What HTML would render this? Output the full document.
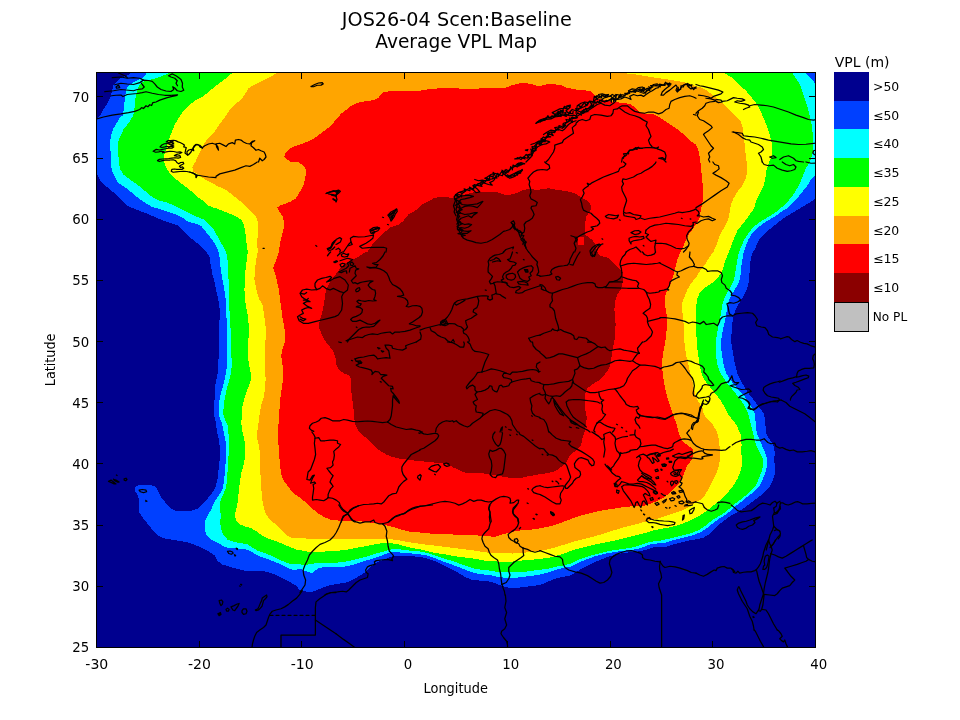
<!DOCTYPE html>
<html lang="en"><head><meta charset="utf-8"><title>JOS26-04 Scen:Baseline Average VPL Map</title>
<style>
html,body{margin:0;padding:0;background:#fff;}
body{width:960px;height:720px;overflow:hidden;font-family:'DejaVu Sans','Liberation Sans',sans-serif;}
svg{display:block;}
svg text{font-family:'DejaVu Sans','Liberation Sans',sans-serif;fill:#000;}
.t{font-size:18.67px;}
.k{font-size:13.33px;}
.g{font-size:12px;}
.h{font-size:14px;}
</style></head><body>
<svg width="960" height="720" viewBox="0 0 960 720">
<rect width="960" height="720" fill="#fff"/>
<defs><clipPath id="c"><rect x="96" y="72" width="720" height="576"/></clipPath></defs>
<g clip-path="url(#c)" shape-rendering="crispEdges">
<rect x="96" y="72" width="720" height="576" fill="#00008f"/>
<polygon fill="#0040ff" points="130,69.5 130,73.88 120.62,78.25 113.75,84.5 111.88,90.75 110.62,97 108.12,102 105,107 102.5,110.75 100.62,115.12 96,120 91,120.75 91,173.25 97,173.88 101,182 108.5,188.25 116,194.5 121,199.5 127.25,205.75 136,209.5 146,213.25 154.75,217 163.5,220.75 171,223.25 178.5,225.75 184.75,232 191,238.25 197.25,243.25 202.25,248.25 206.125,252 209.38,255.75 210.62,264.5 212.5,274.5 215,284.5 216.88,293.25 218.75,302 220,312 219.38,322 218.75,329.5 218.75,342 218.75,354.5 218.12,367 217.5,374.5 215.62,383.25 214.75,392 214.38,404.5 214.38,417 216.25,424.5 216.88,432 218.75,439.5 220,448.25 220,457 218.75,467 218.12,475.75 216.88,482 215,488.25 211,494.5 204.75,502 198.5,508.25 191,510.75 183.5,511.38 176,511.38 171,508.25 166,503.25 161,497 157.88,490.75 156,487 151,485.12 143.5,484.88 138.5,485.12 134.75,487.62 134.75,490.75 137.25,494.5 139.12,499.5 139.12,512 142.25,517 147.25,523.25 152.25,529.5 157.25,535.12 163.5,538.25 171,539.5 178.5,540.75 186,542 193.5,544.5 199.75,547 208,550.75 215,555.75 217.5,560.75 222.5,564.5 230,567 237.5,568.88 245,570.75 252.5,571.38 260,570.75 267.5,572 275,574.5 282.5,578.25 290,582 296.25,585.75 300,590.375 307.5,591.88 312.5,591.88 320,588.75 328.75,585.62 337.5,583.75 345,583.12 352.5,580 358.75,576.25 365,572.5 370,567.5 375,563.75 381.25,560.62 387.5,558.12 392.5,556.25 400,556 407.5,556.25 415,556.5 420,556.88 427.5,558.75 435,561.25 442.5,565 450,568.75 457.5,572.5 465,576.88 472.5,580 480,580.62 487.5,581.25 495,583.12 502.5,586.25 510,588.12 520,587.5 530,586.25 540,585 547.5,581.88 555,578.75 562.5,576.88 570,575.62 577.5,571.25 585,566.88 592.5,563.12 600,560 607.5,556.88 615,555 622.5,553.12 630,552.25 637.5,551.5 645,550 652.5,547.5 660,546.56 666.25,546.88 673.75,544.38 681.25,542.5 688.75,540.62 696.25,539.38 703.75,537.5 710,533.75 715,528.75 720,523.75 725,520 730,516.25 736.25,513.12 741.25,510 746.25,506.25 751.25,502.5 756.25,498.75 761.25,495 766.25,490.62 770,486.25 772.5,481.25 775,473.75 775,466.25 773.935,460 774.75,453.75 774.12,447.5 771.62,442.5 768.5,437.5 765.62,432 765.62,427 765,419.5 763.75,413.25 760,408.25 756.25,403.25 752.5,398.25 747.5,392 743.75,385.75 740,379.5 736.88,372 735,364.5 733.75,357 732.5,349.5 731.25,342 731.25,337 731.88,329.5 732.5,322 733.75,314.5 736.25,308.25 740,302 743.75,295.75 746.88,289.5 748.75,282 749.38,274.5 750,267 750.62,259.5 752.69,252 754.75,249.5 757.25,243.25 761,237 766,232 771,228.25 777.25,223.25 783.5,218.25 789.75,214.5 796,210.75 802.25,207 808.5,203.25 815,198.88 821,198.25 830,198.25 830,60"/>
<polygon fill="#00ffff" points="146.25,69.5 146.25,73.88 142.5,78.25 135,81.38 130,84.5 126.88,87.62 126.25,90.75 125,97 124.38,103.25 123.75,109.5 122.5,115.75 120.38,117 116.62,123.25 112.88,129.5 111,135.75 110.12,142 110.12,148.25 111,154.5 111,161.375 111.62,169.5 114.75,177 118.5,183.25 124.75,187 131,192 138.5,198.25 146,203.25 152.25,207 161,209.5 168.5,212 176,214.5 183.5,218.25 188.5,222 196,223.88 201,225.75 206,232 211,238.25 214.75,243.25 216,245.75 218.625,252 220,259.5 220.62,268.25 221.88,277 223.75,285.75 225,294.5 226.25,304.5 226.25,314.5 226.88,324.5 227.5,333.25 227.19,342 227.25,354.5 226.88,367 225.62,374.5 223.75,383.25 221.25,392 219.38,400.75 218.75,409.5 219.38,417 221.88,423.25 223.75,432 225.62,442 226.25,452 225.62,462 225,472 223.75,482 223.12,487 221.25,492 217.5,497 213.75,503.25 211.25,509.5 207.5,515.75 204.69,522 205,530.75 206.88,535.75 211.25,539.5 217.5,542.62 223.75,546.38 230,548.25 236.25,548.5 242.5,548.88 248.75,550.12 253.75,553.25 260,556.38 267.5,558.88 275,562 282.5,565.12 288.75,568.25 293.75,570.12 300,568.815 306.25,571.25 311.88,573.12 317.5,568.75 322.5,567.25 331.25,567.5 341.25,567.25 350,565.62 360,562.5 370,559.38 380,556.25 387.5,553.12 392.5,552.25 400,552.5 407.5,553.12 415,553.75 420,554.38 427.5,555.62 435,558.12 442.5,561.25 451.25,564.38 460,567.5 467.5,570.62 475,573.12 482.5,574.38 490,575 497.5,576.88 507.5,578.12 517.5,577.5 527.5,576.25 537.5,575 540,574.38 547.5,572.5 555,570 562.5,568.12 570,566.88 577.5,563.12 585,560 595,556.25 605,553.75 615,551.88 625,550.62 635,549.38 642.5,547.5 650,544.38 660,543.13 663.75,543.12 671.25,540.62 678.75,538.75 686.25,536.88 693.75,535 701.25,531.88 707.5,527.5 713.75,522.5 720,518.12 726.25,514.38 731.25,510 736.25,505.62 741.25,501.88 746.25,497.5 751.25,493.75 756.25,489.38 760,485 762.5,480 765,473.75 766.88,466.25 767.06,458.125 764.75,451.25 762.25,446.25 759.75,440 756.75,432.875 755.62,422 755,414.5 752.5,408.25 748.75,402 745,397 740,392 735,385.75 730,379.5 726.25,373.25 723.75,365.75 722.5,358.25 721.25,349.5 720.935,342 721.88,335.75 723.12,328.25 725,320.75 726.25,313.25 727.5,305.75 729.38,299.5 732.5,293.25 736.25,287 739.38,280.75 740.62,274.5 741.25,267 742.5,259.5 743.62,252 746,245.75 748.5,239.5 752.25,233.25 757.25,228.25 763.5,223.25 769.75,219.5 776,215.75 781,212 787.25,208.25 792.25,203.25 797.25,198.25 802.25,192 807.25,185.75 811,179.5 815,175.75 821,175.12 821,83.88 815,83.25 811,78.25 806,73 806,69.5"/>
<polygon fill="#00ff00" points="169.75,69.5 169.75,73 156.25,78.25 143.75,81.38 140,84.5 138.12,87.62 136.88,90.75 135.62,97 135,103.25 134.38,109.5 133.12,115.75 128.5,123.25 123.5,129.5 120.38,135.75 118.25,142 117.88,148.25 118.25,154.5 118.935,161.375 119.75,168.25 123.5,174.5 129.75,179.5 137.25,184.5 144.75,190.75 152.25,197 159.75,200.75 167.25,202.62 174.75,205.75 182.25,209.5 189.75,213.25 197.25,217 203.5,219.5 208.5,224.5 213.5,229.5 216,233.56 219.75,240.75 223.5,247 226.125,252 227.5,259.5 228.12,270.75 228.75,283.25 229.38,295.75 229.38,308.25 230,320.75 230.62,329.5 231.125,342 231.25,354.5 231.88,363.25 231.25,372 229.38,379.5 226.88,388.25 225,397 223.75,405.75 223.12,414.5 225.62,420.75 228.12,427 228.435,432 228.75,442 228.75,452 228.12,462 227.5,472 226.88,482 225.62,488.25 223.12,494.5 220.62,499.5 220,507 220.62,514.5 220.435,522 220.62,528.25 223.12,534.5 227.5,539.5 233.75,542 241.25,543.25 247.5,544.5 252.5,547.62 257.5,550.75 263.75,552.62 271.25,555.75 278.75,559.5 285,562 291.25,564.5 300,564.44 306.25,564.75 312.5,563.75 318.75,562.5 327.5,562.75 337.5,562.5 347.5,561.25 357.5,558.75 367.5,556.25 377.5,553.12 385,551.25 391.25,549.38 396.25,548.75 402.5,549.75 410,550.62 417.5,551.25 420,551.5 427.5,553.12 435,555.62 442.5,558.12 451.25,560.62 460,563.75 467.5,566.25 475,568.75 482.5,570 490,570.62 497.5,571.88 507.5,572.5 517.5,572.25 527.5,571.5 537.5,570 540,569.69 547.5,568.75 555,566.88 562.5,565.62 570,563.75 577.5,560 585,557.5 595,554.38 605,551.88 615,550 625,548.75 635,546.88 642.5,544.38 650,541.88 660,540.625 668.75,538.75 676.25,536.88 683.75,535 691.25,533.12 698.75,530 706.25,525 712.5,520 718.75,516.25 725,512.5 730,508.12 735,503.75 740,500 746.25,495 751.25,490 756.25,485 758.75,478.75 761.25,472.5 763.12,466.25 763,458.75 759.75,452.5 757.25,447.5 754.75,441.25 753,432.875 751.25,425.75 749.38,418.25 747.5,412 743.75,404.5 740,399.5 736.25,394.5 732.5,389.5 728.12,384.5 723.75,378.25 720,372 717.5,364.5 716.25,357 715.62,349.5 715.935,342 716.88,334.5 718.12,327 720,319.5 721.25,312 722.5,304.5 724.38,298.25 727.5,292 731.25,285.75 733.75,280.75 735,274.5 736.25,267 737.5,259.5 738.935,252 741.62,245.75 744.12,239.5 748.5,233.25 753.5,227 759.75,222 766,218.25 772.25,214.5 778.5,210.12 783.5,205.75 788.5,200.75 793.5,194.5 797.25,188.25 801,180.75 803.5,174.5 806,168.25 810.065,162 812.88,152 813.5,144.5 812.88,137 812.25,128.25 811,120.75 809.12,113.25 807.25,105.75 804.75,98.25 802.25,90.75 799.75,84.5 796,78.25 792.25,73 792.25,69.5"/>
<polygon fill="#ffff00" points="232.25,69.5 232.25,73 226,78.25 221,82 216,85.75 208.5,92 202.25,97 194.75,100.75 188.5,105.75 183.5,110.75 178.5,118.25 174.75,124.5 172.25,130.75 169.75,137 167.88,143.25 166,149.5 164.12,155.75 164.125,162 166,167 169.75,173.25 174.75,178.25 181,183.25 186,187 192.25,192 197.25,197 203.5,200.75 208.5,205.75 213.5,207.62 216,208.25 222.25,210.75 228.5,213.25 234.75,215.75 241,219.5 243.5,224.5 245.38,232 246,239.5 247.25,247 247.69,252 246.88,259.5 245.62,268.25 245,279.5 244.38,289.5 245,299.5 246.25,308.25 248.12,317 248.75,327 248.435,342 247.5,352 248.75,363.25 250.62,372 251.25,378.25 249.38,384.5 246.88,390.75 244.38,398.25 242.5,405.75 241.88,414.5 241.25,423.25 242.5,432 244.38,439.5 245,448.25 245,457 243.75,464.5 241.25,473.25 240,482 238.75,490.75 238.12,499.5 236.88,507 235,513.25 235.62,519.5 237.185,522 240,524.5 245,526.38 251.25,528.25 257.5,532 262.5,535.75 267.5,538.25 275,540.75 282.5,543.88 290,547 296.25,549.5 300,550.185 307.5,551.5 315,551.88 325,551.5 335,551 345,550 355,548.12 365,546.25 375,544.38 382.5,543.12 390,543.12 397.5,544 405,546.25 412.5,548.12 420,549.38 427.5,551.25 436.25,553.12 445,554.38 455,556.25 465,557.5 475,558.75 485,560.62 492.5,561.25 502.5,561.88 512.5,561.5 520,560.62 530,560 540,558.75 547.5,558.12 555,556.25 565,553.12 575,549.38 585,546.88 595,544.38 605,542.5 615,540.62 625,538.12 635,535.62 645,533.12 652.5,530.62 660,529.065 668.75,527.5 676.25,525.62 683.75,523.12 691.25,520 698.75,516.25 706.25,511.25 712.5,506.25 718.75,501.25 723.75,496.25 728.75,491.25 733.75,485 737.5,478.75 740,472.5 741.88,466.25 742.375,460 741,452.5 741.62,445 740.5,434.125 736.25,424.5 731.25,418.25 727.5,413.25 723.75,405.75 720,399.5 715,393.25 710,387 705,380.75 701.88,374.5 700,367 698.75,358.25 697.5,349.5 696.88,342 696.25,333.25 695.62,324.5 696.25,314.5 696.25,305.75 697.5,298.25 700,292 703.75,288.25 710,284.5 716.25,279.5 721.25,273.25 723.75,265.75 726.25,258.25 728.935,252 731.62,244.5 734.12,238.25 737.25,230.75 742.25,224.5 746,219.5 749.75,214.5 754.12,208.25 756,200.75 759.75,193.25 763.5,185.75 765.38,178.25 766.62,169.5 769.125,162 771.62,157 772.25,149.5 771.62,142 769.75,134.5 767.25,127 764.12,119.5 761,112 757.25,104.5 752.25,98.25 746,90.75 737.25,83.25 731,77 724.12,73 724.12,69.5"/>
<polygon fill="#ffa500" points="277.25,69.5 277.25,73 269.75,77 262.25,80.75 254.75,84.5 248.5,88.25 244.75,94.5 241,99.5 234.75,104.5 229.75,109.5 226,115.75 222.25,120.75 218.5,125.75 216,129.815 211,135.75 206,140.75 202.25,147 198.5,154.5 195.375,162 192.25,167 193.5,172 198.5,174.5 203.5,178.25 208.5,181.38 213.5,183.88 216,185.435 221,187.62 227.25,190.75 233.5,195.75 239.75,200.75 244.75,205.75 251,212 256,217 257.88,222 257.88,232 257.25,242 257.69,252 256.25,259.5 255,268.25 254.38,279.5 256.25,289.5 258.75,298.25 262.5,304.5 263.75,312 265,322 266.25,332 265.31,342 265,354.5 265,367 265.62,379.5 265,389.5 263.75,397 261.25,404.5 260,412 258.75,420.75 257.19,432 257.5,439.5 259.38,448.25 260,457 260,467 260.62,477 261.25,487 261.88,497 263.12,504.5 265,512 268.75,518.25 272.81,522 277.5,525.75 282.5,530.75 287.5,535.75 291.25,537.62 296.25,538.25 300,538.25 312.5,538.75 325,539 337.5,538.75 350,538.75 362.5,538.5 375,538.5 387.5,539 397.5,540 407.5,541.88 415,543.12 420,543.75 427.5,545 435,545.62 445,546.88 455,548.12 465,549.38 475,550.62 485,552.25 492.5,553.12 502.5,553.12 512.5,553.5 522.5,553.12 530,551.88 540,550.935 547.5,549.38 555,547.5 565,544.38 575,541.25 585,538.75 595,536.25 605,533.12 615,530 625,526.88 635,524.38 642.5,522.5 650,520.62 660,517.81 665,516.25 672.5,513.75 680,511.25 687.5,507.5 693.75,503.75 700,500 705,495 708.75,488.75 712.5,481.25 716.25,473.75 718.75,466.25 719.875,459.375 719.75,450 719.12,440 716.88,432 715,428.25 712.5,424.5 707.5,419.5 703.75,414.5 702.5,408.25 698.75,402 695.62,395.75 693.75,388.25 691.88,379.5 690,372 688.12,363.25 686.25,355.75 685,348.25 684.38,342 683.75,334.5 683.75,327 683.12,317 681.88,308.25 682.5,302 685,295.75 687.5,289.5 691.25,283.25 696.25,277 700,270.75 705,264.5 708.75,258.25 713.315,252 717.25,243.25 719.12,237 722.25,230.75 726,224.5 728.5,218.25 729.75,212 731,204.5 733.5,198.25 737.25,192 742.25,185.75 746,178.25 747.25,169.5 746.625,162 745.38,152 744.75,144.5 743.5,137 742.88,128.25 741,122 734.75,115.75 728.5,109.5 721,102 713.5,95.75 707.25,90.75 701,87.62 696,86.065 688.5,83.25 676,80.75 663.5,78.88 651,77 636,74.5 622.25,73 622.25,69.5"/>
<polygon fill="#ff0000" points="278.75,252 276.88,258.25 273.12,267.62 275,273.25 276.88,280.75 278.75,289.5 280,299.5 281.25,308.25 282.5,318.25 284.38,327 285,334.5 284.69,342 282.5,349.5 281.25,355.75 282.5,364.5 283.12,373.25 282.5,383.25 281.25,392 280,400.75 279.38,410.75 278.75,420.75 277.81,432 278.12,439.5 278.75,448.25 279.38,457 280,465.75 281.25,474.5 283.75,480.75 287.5,485.75 291.25,490.75 295,494.5 300,497.625 306.56,503.19 312.5,508.75 318.75,513.75 325,517.5 331.25,520 340,520.62 350,520.62 360,521.25 370,522.5 380,523.75 387.5,525.62 395,527.5 402.5,530 410,531.88 420,532.5 430,533.5 440,534 450,534.38 460,534.75 470,535 480,535.62 487.5,536.25 495,536.88 500,535 507.5,533.12 515,531.25 522.5,530 530,529.75 540,528.435 547.5,526.88 555,525 565,521.25 575,517.5 585,514.38 595,511.88 605,510 615,508.5 625,506.88 636.25,506 643.75,505.75 650,503.88 656.25,501.38 660,499.75 663.75,497.5 668.75,493.75 673.75,488.75 678.75,483.75 682.5,477.5 685,471.25 687.5,465 691.56,460 693.75,453.75 692.5,448.75 687.5,445 682.5,441.25 679.375,434.75 676.25,423.25 673.75,417 671.25,409.5 668.75,402 666.25,393.25 664.38,384.5 663.12,375.75 661.88,367 662.5,358.25 663.75,349.5 665.31,342 666.25,334.5 666.88,327 667.5,319.5 666.25,312 665,304.5 665,297 667.5,289.5 671.25,282 673.75,274.5 675.62,267 677.5,259.5 680.5,252 683.5,245.75 686,239.5 688.5,234.5 692.25,229.5 696,223.875 697.25,222 699.75,217 701,209.5 702.88,199.5 702.88,187 701.62,174.5 700.38,162 699.75,157 698.5,150.75 696,144.5 693.5,143.25 688.5,138.88 682.25,133.25 676,128.25 668.5,123.25 661,118.25 653.5,114.5 646,113.88 639.75,112 634.75,107 629.75,103.88 619.75,102.62 613.5,102 604.75,100.12 597.25,98.25 594.75,95.12 591,91.38 583.5,90.12 576,89.5 573.5,88.88 566,87.62 561,85.12 553.5,84.25 546,84.5 538.5,86.38 531,83.88 526,83.25 518.5,83.5 512.25,85.12 506,87.62 493.5,88 482.25,88.25 474.75,88.88 463.5,88.88 456,88.25 448.5,88.5 441,88.25 431,88.88 421,90.5 411,90.5 403.5,91.38 398.5,90.75 388.5,91.38 382.88,92.62 378.5,97.62 373.5,100.12 367.25,101 361,102 356,103.25 351,105.75 346,110.12 341,113.88 336,119.5 331,125.75 326,129.5 321,133.25 316,137 311,140.12 303.5,143.25 296,145.75 289.75,148.25 286,152 284.12,157 287.25,159.5 291,162 297.88,162 303.5,165.75 306.62,170.75 305.38,177 303.5,184.5 299.75,192 296,198.25 291,201.38 284.75,203.88 279.75,205.75 277.25,207.62 279.75,212 282.88,217 284.12,222 283.5,229.5 281.62,237 279.75,244.5 279.12,252"/>
<polygon fill="#8b0000" points="367.25,252 372.25,244.5 378.5,238.25 384.75,232 391,227 398.5,224.5 403.5,220.75 408.5,214.5 416,210.12 421,205.12 428.5,201.38 434.75,197.62 443.5,197.25 451,197.62 456,198.125 463.5,194.75 472.25,192.62 481,191.75 491,191.75 498.5,192.62 504.75,194.75 511,194.5 516,193.25 522.25,190.5 528.5,188.88 536,189.75 543.5,189.25 548.5,188.25 556,189.75 563.5,190.75 571,192 576,194.125 581,197 587.25,200.75 591,205.12 591,209.5 588.5,213.25 586,217 585.38,222 584.75,228.25 584.75,234.5 588.5,237 592.25,240.12 594.75,243.25 596,247 597.375,252 600,255.75 607.5,257.62 612.5,262 617.5,267 621.25,270.75 622.5,277 622.5,283.25 620.62,289.5 617.5,294.5 615,302 614.38,309.5 615,317 615.62,324.5 615,333.25 614.38,342 613.12,347 611.88,353.25 611.25,359.5 610,365.75 607.5,370.75 603.75,375.75 600,379.5 596.25,382 591.25,385.12 587.5,388.25 585.62,392 585,397 585,404.5 585.62,412 586.88,417 586.25,422 585,427 584.565,432 582.5,438.25 581.25,444.5 577.5,449.5 572.5,453.25 568.75,457 566.25,462 562.5,465.75 557.5,469.5 552.5,472 546.25,473.25 540,474.19 535,475.12 527.5,476.38 520,478.25 512.5,478.25 505,477 497.5,475.75 490,474.5 482.5,473.25 475,473.25 467.5,473.25 461.25,471.38 455,468.25 448.75,465.12 442.5,463.25 435,462.62 427.5,462 420,461.065 415,460.75 407.5,459.5 400,458.88 392.5,457 386.25,454.5 380,450.75 375,447 370,442 365,437 359.375,432 355.62,425.75 354.38,419.5 353.75,412 353.12,404.5 351.88,397 351.25,389.5 351.25,380.75 350,375.75 343.75,373.25 338.75,369.5 336.25,364.5 335.62,358.25 333.75,352 330,347 325.94,342 323.75,338.25 321.25,333.25 319.38,328.25 319.38,322 321.25,315.75 323.12,308.25 324.38,302 325,294.5 326.88,288.25 330,282 333.75,277 337.5,272 341.25,267 346.25,263.25 352.5,259.5 360,255.75 365.62,252"/>
<rect x="578" y="236.5" width="6" height="8" fill="#ff0000"/>
</g>
<g clip-path="url(#c)" fill="none" stroke="#000" stroke-width="1.25" stroke-linejoin="round" stroke-linecap="round">
<path d="M96,119.25L103.5,117L112.25,115.12L121,113.88L128.5,112.62L134.75,111.38L139.75,109.5L141.62,107.62L143.5,108.5L146,105.75L147.88,106.75L149.75,104.75L151.62,105.5L152.88,102.62L156,102L159.75,100.12L163.5,98.88L167.25,97.62L172.25,96.38L176,95.75L177.5,94.88L171,95.25L164.75,95.25L158.5,94.5L152.25,93.25L146,91.75L142.25,92.62L137.25,93.5L132.25,94L127.25,94.5L122.88,96.5L121,95.12L116,95.25L111.62,95.75"/>
<path d="M104.75,91.62L113.5,90.75L121,89.5L128.5,90.25L133.5,90.75L137.25,89.5L142.25,88.88L144.25,87L142.25,84.5L140.5,82L143.5,80.12L148.5,80.5L152.25,81.38L154.75,83.88L157.25,87L161,89.5L166,91L171,91.5L173.75,89.5L172.75,86.75L174.75,88L177.25,90.75L181,91.5L183.75,90.25L182.25,87L182.5,83.25L181,79.5L178.5,77.62L176,75.75L172.25,73.88L168.5,75.75L171,77L174.75,78.25L177.25,80.75L176,83.25L177.5,85.75"/>
<path d="M112.25,77.62L121,77L127.25,78.25L133.5,77.62L139.75,78.25L143.5,80.12"/>
<path d="M114.75,84.75L121,83.25L127.25,84L133.5,84.5L139.75,82.62"/>
<path d="M116,87L118.5,85.12L119.75,87.62L116.62,88.25L116,87"/>
<path d="M118.5,73L124.75,75.75L127.25,77.62"/>
<path d="M188.5,154.75L191,152L193,148.25L196,144.5L199.75,145.25L202.25,147.75L204.75,145.75L208.5,144L212.25,143.25L216,144.5"/>
<path d="M189.75,172L193.5,173.25L196,174.5L196,177.62L197.25,175.12L202.25,176L208.5,177L216,177.62"/>
<path d="M108.5,481.38L111,480.12L113.5,482L116,483.88L114.12,483.88L111.62,482.62L108.5,481.38"/>
<path d="M113.5,479.25L116,480.12L119.12,482L117.25,482L114.75,480.75L113.5,479.25"/>
<path d="M116.38,475L117.12,475.5"/>
<path d="M124.12,478.88L126,478.25L127,479.5L125.75,480.75L124.12,480.12L124.12,478.88"/>
<path d="M139.12,490.12L142.25,489.5L146,490.12L146.62,491.75L143.5,492.62L140.38,491.75L139.12,490.12"/>
<path d="M145.75,500.5L147,501.25L146,501.5L145.75,500.5"/>
<path d="M227.5,551.38L230,551L232.5,552L233.12,553.25L231.25,554.25L228.75,553.5L227.5,551.38"/>
<path d="M236.25,548.25L237.5,548.5L237.25,549.5L236.25,548.25"/>
<path d="M234.38,554.75L235.62,555.25L235,556L234.38,554.75"/>
<path d="M241,584.25L241.75,584.75"/>
<path d="M239.5,586L240.25,586.25"/>
<path d="M311,86.5L314.75,84.5L318.5,83L322.25,82.62L323.25,83.88L321,85.12L317.25,85.25L313.5,86.75L311,86.5"/>
<path d="M216,144.5L217.88,147L218.5,150.12L216.62,147L216,143.88L219.75,143.25L223.5,145.12L226,146.5L228.5,143.88L232.25,142.62L234.75,144L235.38,140.12L238.5,139.5L241,140.12L243.5,142L246.62,143.5L249.75,144L252.25,141.38L254.75,140.75L251.62,142.75L251,145.75L253.5,147.75L256,150.25L258.5,149.5L261,150.75L264.12,152L265.38,154.5L266,157L264.12,159.5L262.25,160.75L259.75,158.25L258.5,162"/>
<path d="M216,176.38L219.75,173.88L224.75,172.62L229.75,171.38L234.75,170.12L241,167.62L246,165.75L249.75,166.38L253.5,164.5L257.25,162"/>
<path d="M326,193.5L329.75,192L333.5,190.75L336,191.38"/>
<path d="M328.5,193.88L332.25,194.75L336,196"/>
<path d="M332.88,198.88L336,201"/>
<path d="M263,248.25L264.25,248.25"/>
<path d="M315.75,245.5L316.75,246.25"/>
<path d="M327.25,248.5L331,247L332.25,243.25L334.75,240.75L336,240.25"/>
<path d="M328.5,251L332.25,249.5L334.75,247"/>
<path d="M300,592.5L302.5,588.75L305,585L305.62,580L303.75,575L303.12,570L305,565L307.5,560L309.38,555L312.5,551.25L316.25,547.5L320,544.38L325,542.5L330,540L333.75,536.25L336.25,532.5L338.75,527.5L341.25,521.25L343.12,516.25L347.5,513.75"/>
<path d="M338.75,505L341.25,508.75L343.75,511.25L347.5,513.12L350,511.25L352.5,508.75L356.25,506.88L358.75,505.62"/>
<path d="M347.5,513.75L350,516.88L352.5,520L356.25,521.88L360,523.12L365,521.88L370,521.88L373.75,520L375,522.5L378.75,523.75L382.5,523.75"/>
<path d="M382.5,523.75L387.5,522.5L391.25,520L395,516.88L398.75,515.62L401.25,514.38L405,513.12L408.75,510L412.5,508.12L416.25,506.88L420,506.25"/>
<path d="M382.5,523.75L385,526.25L386.88,531.25L386.25,536.25L387.5,541.25L388.12,546.25L389.38,551.25L392.5,554.38L393.75,556.25L391.88,558.75L392.5,560.62L387.5,559.38L381.25,560L376.25,560.62L374.38,561.88L375,564.38L370,565.62L367.5,566.88L365.62,570L366.25,572.5L368.12,573.75L367.5,577.5L363.75,578.75L360,580L356.25,582.5L352.5,586.25L348.75,590L346.25,591.88L342.5,591.25L337.5,591.88L331.25,592.5L325,595"/>
<path d="M219.12,600.62L221.62,600L222.88,601.88L222.25,604.38L221,605.62L219.75,603.12L219.12,600.62"/>
<path d="M217.88,613.75L220.38,612.5L221,614.38L219.12,615.62L217.88,613.75L219.75,614"/>
<path d="M226,609.38L227.5,608.12L229.12,609.38L228.5,611L226.62,611L226,609.38"/>
<path d="M231,606.88L234.12,605.62L237.25,604L239.12,603.5L237.88,606.25L236,608.75L234.75,610.62L232.88,610L231,606.88"/>
<path d="M242,610.62L243.5,608.75L246,608.75L247,611.25L246,613.75L243.5,614.38L242,612.5L242,610.62"/>
<path d="M255.38,610L257.88,608.75L259.12,606.25L260.38,603.12L261.62,600.62L262.25,598.12L264.75,596.25L266.62,595L267,596.88L265.38,598.75L263.5,600.62L262.88,603.12L262,606.25L260.38,608.12L258.5,610L256,610.62L255.38,610"/>
<path d="M240.62,584.5L241.38,585"/>
<path d="M302.25,590.62L299.75,594.38L296.62,598.12L292.25,601.25L288.5,604.38L284.75,606.88L281,608.75L276,610L272.25,611.25L269.75,614.38L268.5,617.5L267.25,621.25L266,625L263.5,627.5L259.75,630L256.62,632.5L254.75,636.25L253.5,640L252.5,643.75L252,647.5"/>
<path d="M270,615.25L273,615.25"/>
<path d="M276,615.25L279,615.25"/>
<path d="M282,615.25L285,615.25"/>
<path d="M288,615.25L291,615.25"/>
<path d="M294,615.25L297,615.25"/>
<path d="M300,615.25L303,615.25"/>
<path d="M306,615.25L309,615.25"/>
<path d="M312,615.25L315,615.25"/>
<path d="M336,592.5L331,592.5L326.62,593.75L323.5,596.25L319.75,598.75L316,601.88L315.38,607.5L315.38,615.25L315.38,620L315.38,635L281,635L281,647.5"/>
<path d="M315.38,620L321,623.75L328.5,628.75L336,633.75"/>
<path d="M336,190.75L338.5,190.12L340.38,191.38L338.5,193.25L336.62,194.5L336,196.38L337,199.5L336,202"/>
<path d="M336,192L337.88,192L337.25,193.88"/>
<path d="M387.88,215.12L391,212L394.75,210.12L396.62,208.88L397.25,211.38L395.38,213.88L394.12,217L392.25,219.5L391,221L389.75,217.62L387.88,215.12"/>
<path d="M389.75,214.5L392.88,213.25L394.75,212L393.5,215.12L391.62,217L391,218.88"/>
<path d="M382.5,217.25L383.5,217.5"/>
<path d="M387.5,224.5L388.5,224.75"/>
<path d="M369.75,230.12L373.5,227.62L377.25,227L379.75,228.25L377.88,230.75L374.75,232L373.5,234L371,233.25L369.75,230.12"/>
<path d="M371.62,230.75L374.75,229.5L377.25,228.88"/>
<path d="M336,239.5L339.75,237.62L341.62,238.88L340.38,242L337.25,243.88L336,244.5"/>
<path d="M343.5,252L346,248.25L348.5,244.5L351,242L350.38,238.25L353.5,236.38L358.5,237L364.75,236.75L369.75,235.75L373.5,235.12L372.88,238.25L369.75,240.75L366,243.25L362.25,245.12L359.75,246.38L362.25,248.25L368.5,247.62L376,247.25L383.5,247.25L386.62,248.25L386,252"/>
<path d="M348.5,245.75L352.25,244.5L351,242"/>
<path d="M336,249.5L338.5,248.25L340.38,250.12L339.75,252"/>
<path d="M456,194.5L454.12,197L455.38,200.75L453.5,205.75L454.75,209.5L454.12,212L456,215.75"/>
<path d="M327.5,255.75L329.38,253.25L330.62,252"/>
<path d="M337.5,255.75L340,253.25L342.5,252"/>
<path d="M333.75,262L336.25,260.75L337.5,261.38L335,262.62L333.75,262"/>
<path d="M340,260.75L343.75,259.5L347.5,258.25L350,258.88L352.5,259.5L350,261.38L347.5,263.25L348.75,265.75L346.25,268.25L343.75,269.5L341.25,270.75L338.75,272L341.25,272.62L343.75,271.38L346.25,270.75L346.88,273.25"/>
<path d="M349.38,272L350,268.25L352.5,267L355,265.75L356.25,268.25L358.75,268.88L355.62,270.12L355,273.25L356.25,275.75L353.75,278.25L351.25,280.75L353.12,283.25L355,282.62L357.5,283.88L360,282.62L362.5,282L366.25,281.38L370,280.75L373.12,281L370,282.62L368.12,285.12L370,287.62L372.5,289.5L375,290.12L375.62,293.25L375,296.38L373.75,299.5L376.25,300.75L372.5,301L368.75,300.5L365,301.38L361.25,300.75L358.75,300.12L356.88,301.38L358.75,303.25L361.25,303.88L360,305.75L356.88,306.38L356.25,307L360,307.62L362.5,309.5L361.88,312.62L360,314.5L356.25,316.38L352.5,317.62L350.62,319.5L352.5,321.38L356.25,321.38L360,320.12L363.75,322L367.5,323.88L371.25,324.5L375,323.25L377.5,321.38L380,320.12L376.25,323.88L373.75,326.38L370,327L366.25,327L362.5,327.62L358.75,329.5L356.25,332L353.75,334.5L351.25,337L348.75,339.5L346.25,340.75"/>
<path d="M341.25,254.5L343.75,253.25L346.25,254.5L348.75,253.88L347.5,256.38L344.38,257L341.88,256.38L341.25,254.5"/>
<path d="M340,264.5L342.5,263.25L345,263.88L343.75,266.38L341.25,267L340,264.5"/>
<path d="M350,263.25L351.88,262L353.75,263.88L352.5,265.75L350.62,265.12L350,263.25"/>
<path d="M355.62,290.12L357.5,288.25L359.38,287.62L360,289.5L358.12,291.38L356.25,291.75L355.62,290.12"/>
<path d="M385,252L383.12,255.75L380,259.5L376.25,262.62L372.5,263.25L375,264.5L378.12,264.5L376.25,267L371.25,267.62L366.88,267L370,268.25L375,267.62L380,268.88L383.75,270.75L386.88,273.25L388.75,277L390,280.75L392.5,284.5L396.25,286.38L400,288.88L402.5,292L403.75,295.12L401.25,295.75L397.5,296.38L401.25,297L405,298.25L407.5,300.75L408.12,303.88L406.25,306.38L408.75,307L412.5,305.75L416.25,305.5L420,306.38"/>
<path d="M420,317L416.25,319.5L412.5,322L409.38,323.88L412.5,324.5L416.25,325.75L420,325.75"/>
<path d="M346.25,340.75L350,339.5L353.75,338.25L357.5,337L362.5,337.62L365,335.75L368.75,334.5L372.5,333.88L377.5,334.5L381.25,333.25L385,332.62L390,332L392.5,333.88L395,332L400,332L405,331.38L410,330.12L415,328.25L418.75,327L420,326.38"/>
<path d="M348.75,339.5L347.5,342"/>
<path d="M416.25,342L420,339.5"/>
<path d="M356.25,327L357,327.5"/>
<path d="M355,358.88L358.75,357.62L363.75,357L368.75,355.75L373.75,355.12L376.25,357L377.5,358.88L381.25,358.25L386.25,357.62L390,358.25L389.38,354.5L388.75,350.75L386.25,348.25L385,345.12L388.75,345.12L391.88,345.75L392.5,348.25L397.5,349.5L402.5,350.12L406.25,348.25L405.62,345.75L408.75,344.5L412.5,343.25L416.25,342"/>
<path d="M377.5,347.62L380,348.25L378.75,348.88L377.5,347.62"/>
<path d="M381.25,350.75L383.75,351.38L382.5,352L381.25,350.75"/>
<path d="M355,358.88L356.25,361.38L360,360.75L361.88,362.62L358.75,363.88L356.25,365.12L359.38,367L362.5,367.62L367.5,368.88L371.25,370.12L372.5,372.62L371.88,374.5L375,371.38L378.75,372L380.62,374.5L383.75,374.5L386.88,375.12L383.12,376.38L381.25,378.25L383.75,380.75L386.25,383.25L388.75,385.75L392.5,386.38L393.12,388.88L390.62,388.25L391.25,391.38L393.12,393.25L395,395.75L396.88,398.25L398.75,400.75L399.38,403.25L397.5,401.38L395,398.25L393.12,395.75L392.5,400.75L392.5,405.75L391.88,410.75L391.25,415.75L390,419.5L387.5,422"/>
<path d="M357.5,361.38L360,362L361.25,363.25L358.75,363.25L357.5,361.38"/>
<path d="M387.5,422L382.5,422.62L377.5,422L372.5,421.38L367.5,421L362.5,421.38L357.5,421.75L352.5,421.38L347.5,420.12L343.75,419.5L340,420.75L336.25,420.75L332.5,420.75L328.75,418.88L325,417.62L321.25,418.25L318.75,420.75L316.25,422L312.5,423.25L310,425.75L309.38,428.25L311.25,430.12L313.75,431.38"/>
<path d="M387.5,422L391.25,424.5L396.25,427L401.25,428.25L406.25,429.5L411.25,428.88L416.25,430.12L420,430.75"/>
<path d="M351.5,360.38L352.5,360.75"/>
<path d="M380.25,381.62L381.25,382.12"/>
<path d="M338.75,342L341.25,342.62"/>
<path d="M311.88,432L313.75,434.5L315,437L315,438.25L314.38,443.25L315,448.25L315.62,454.5L314.38,459.5L312.5,464.5L310.62,469.5L308.12,472L307.5,475.75L306.88,479.5L310,480.12L312.5,475.75L314.38,475.12L312.5,478.25L311.25,481.38L310.62,483.25L314.38,482L315.62,483.25L313.12,484.5L313.75,488.25L313.12,493.25L312.5,497L312.5,500.12L316.25,499.5L320,500.12L323.75,500.75L326.88,498.88L328.12,497.62"/>
<path d="M315,438.25L318.75,437.62L320.62,440.75L325,440.75L330,440.12L333.75,440.12L337.5,440.75L337.5,443.25L340.62,444.5L338.75,447L336.25,448.88L333.75,451.38L334.38,455.12L333.75,459.5L332.5,462L333.12,465.12L330.62,467.62L326.88,468.25L328.75,470.75L331.25,473.88L333.12,475.75L331.25,478.88L330,482L331.88,484.5L333.12,486.38L330.62,488.88L329.38,491.38L328.12,494.5L328.12,497.62"/>
<path d="M328.12,497.62L332.5,498.25L336.25,500.12L339.38,502.62L340,505.12L341.25,507L343.12,509.5L346.25,512L348.12,513.25L350,510.12L353.75,507.62L358.75,505.75L363.75,504.5L368.75,504.25L373.75,503.88L377.5,503.25L381.25,503.88L383.75,502L386.25,498.88L388.75,495.75L392.5,493.88L396.25,493.25L397.5,490.75L398.75,487L401.25,483.88L403.75,481.38L406.88,479.25L405,477L403.12,474.5L401.88,470.75L401.88,467L403.75,463.88L406.25,460.75L408.75,457.62L411.25,454.5L415,452.62L418.75,450.75L420,450.12"/>
<path d="M341.25,522L342.5,518.25L344.38,515.75L348.12,513.88L350,517L351.25,519.5L353.75,521.38L355,522"/>
<path d="M388.75,522L392.5,518.25L396.25,515.75L400,514.5L403.75,513.88L407.5,511.38L411.25,509.5L415,508.25L420,506.38"/>
<path d="M420,475.12L418.12,475.75L417.5,477.62L419.38,479.5L420,479.5"/>
<path d="M418.75,433L420,433.5"/>
<path d="M490,505L488.75,508.75L490,512.5L490.62,517.5L491.25,521.25L490,523.75L488.75,528.75L485,532.5L482.5,535.62L481.88,538.75L483.12,542.5L485,546.25L488.12,548.75L489.38,552.5L491.25,555.62L493.75,557.5L497.5,560L498.75,563.75L499.38,568.75L500.62,573.75L501.25,580L501.88,584.38"/>
<path d="M501.88,584.38L506.25,582.5L508.75,578.75L510,575L508.75,571.25L508.75,567.5L511.25,565L513.75,562.5L517.5,560L521.25,557.5L523.75,555.62L523.12,551.88L523.12,548.12"/>
<path d="M516.88,505L515,507.5L513.12,510L513.12,513.75L515.62,516.25L518.12,518.75L518.75,522.5L517.5,526.25L515,529.38L511.25,531.88L508.12,534.38L508.75,537.5L511.25,540L513.75,541.25L518.75,543.75L520,546.25L523.12,548.12"/>
<path d="M523.12,548.12L527.5,549.38L531.25,551.25L535,552.25L538.75,551.25L540,550.62"/>
<path d="M514.38,539.38L516.88,538.5L518.12,540.62L516.88,543.12L515,542.5L514.38,539.38"/>
<path d="M501.88,584.38L503.12,588.12L504.38,591.25L505,595"/>
<path d="M533.25,518.5L534.25,519"/>
<path d="M536.38,514.25L537.12,514.62"/>
<path d="M519.38,528.75L520.62,527.5"/>
<path d="M420,506.25L426.25,505.62L432.5,505"/>
<path d="M336,633.75L343.5,639.38L349.75,643.75L354.75,647.5"/>
<path d="M536,123.25L539.75,120.12L543.5,118.88L548.5,117.62L553.5,116.38L556,115.12L552.25,112.62L556,110.75L559.75,108.88L563.5,108.25L567.25,105.75L570.38,105.12L569.12,108.25L566,110.75L568.5,113.25L572.25,109.5L576,110.75"/>
<path d="M536,123.25L541,121.38L546,119.5L551,118.88L554.75,117L558.5,116.38L562.25,115.12L566,114.5L569.75,115.75L573.5,115.12L576,115.75"/>
<path d="M556,113.25L559.75,112L563.5,110.75L562.25,113.25L566,112.62L564.75,115.12"/>
<path d="M514.75,158.88L518.5,158.25L521,159.5L523.5,157L527.25,158.25L529.75,154.5L532.25,155.75L531,152L533.5,148.25L536,149.5L534.75,145.75L537.25,143.25L539.75,144.5L542.25,142L541,139.5L543.5,137L546,138.25L548.5,135.75L547.25,133.25L551,132L554.75,132.62L556,129.5L554.75,127.62L558.5,127L562.25,128.25L564.75,125.75L563.5,123.25L567.25,122L566,119.5L569.75,120.12L572.25,117L576,118.25"/>
<path d="M531,144.5L534.75,143.25L538.5,141.38L543.5,140.12L548.5,141.38L549.75,142L546,143.88L542.25,144.5L537.25,147L533.5,152L531,157L528.5,159.5L526,162"/>
<path d="M543.5,134.5L547.25,132L551,130.12L554.75,130.75L558.5,129.5L562.25,130.75L564.75,128.88L568.5,124.5L572.25,122L576,120.75"/>
<path d="M525.38,150.12L527.88,149.5L527.25,150.75L525.38,150.12"/>
<path d="M576,124.5L572.25,127.62L572.88,130.75L573.5,133.25L569.75,135.75L566,138.25L563.5,140.12L562.25,142.62L558.5,143.88L554.75,145.12L554.75,148.25L553.5,152L551,155.75L548.5,159.5L546,162"/>
<path d="M524.75,163.88L521,162.62L517.25,163.88L514.75,166.38L511,168.25L508.5,170.75L506,169.5L503.5,173.25L506,175.75L509.75,178.25L513.5,177L517.25,174.5L521,172L522.25,170.12L518.5,171.38L514.75,173.25L511,175.12L507.25,177"/>
<path d="M503.5,173.25L502.25,175.75L498.5,174.5L494.75,173.25L491,174.5L487.25,177L484.75,178.25L488.5,179.5L492.25,178.88L496,177L493.5,180.75L489.75,182.62L492.25,185.12L488.5,184.5L484.75,183.25L481,182.62L477.25,184.5L474.75,187L477.25,188.88L479.75,192L476,192.62L473.5,190.12L469.75,188.25L466,190.12L462.25,191.38L458.5,192.62L456,194.5"/>
<path d="M456,197L459.75,196.38L463.5,195.75L468.5,195.12L473.5,196.38L469.75,197.62L464.75,198.88L461,199.5L458.5,202L462.25,204.5L467.25,205.12L472.25,204.5L477.25,203.88L481,202L482.88,201.38L479.75,205.12L477.25,207.62L473.5,206.38L469.75,205.75L464.75,206.38L461,208.25L458.5,210.75L461,213.25L464.75,214.5L469.75,213.88L474.75,212.62L477.25,212.62L473.5,215.12L471.62,217.62L468.5,215.75L464.75,217L461,218.25L458.5,220.75L461,223.25L464.75,224.5L468.5,223.88L471.62,224.5L468.5,227L464.75,228.25L461,227.62L458.5,229.5L462.25,230.75L467.25,231.38L471,230.75L467.25,233.25L462.25,233.25L461.62,235.75L463.5,238.25L467.25,240.12L472.25,241.38L476,242.62L481,243.25L487.25,242L492.25,239.5L496,237L499.75,234.5L503.5,231.38L506,230.75L509.75,229.5L512.25,227L512.88,224.5L511,222.62L513.5,220.75L514.75,223.25L514.12,227L516,229.5L519.75,230.75L522.25,233.25L524.12,232L524.75,228.25L524.12,224.5L526,222L529.75,220.12L532.25,218.25L534.12,214.5L532.88,211.38L531,208.25L531.62,206.38L536,205.75L537.25,202.62L534.75,200.75L531,198.88L529.75,195.75L531,192L530.38,188.25L529.12,184.5L529.75,181.38L527.88,178.25L530.38,175.12L533.5,172L537.25,170.12L542.25,169.5L547.25,170.12L549.75,168.25L549.12,165.12L546,163.25L544.75,162"/>
<path d="M456,199.5L457.25,204.5L456,209.5L457.88,214.5L456.62,219.5L458.5,224.5L457.25,228.25L459.75,232L461.62,235.75"/>
<path d="M474.75,179.5L478.5,180.75L482.25,180.12L486,180.75L489.75,180.12"/>
<path d="M516,229.5L518.5,232L519.75,235.75L521,238.25L523.5,239.5L526,242L524.75,244.5L526,248.25L528.5,252"/>
<path d="M521,239.5L523.5,242L522.88,244.5"/>
<path d="M503.5,252L506,249.5L509.75,248.25L513.5,247L512.88,248.88"/>
<path d="M571,235.75L574.75,237L576,239.5L574.12,243.25L576,248.25L574.75,252"/>
<path d="M420,306.38L421.88,308.25L422.5,312L421.25,315.75L420,316.38"/>
<path d="M420,330.12L425,328.25L430,327L435,325.75L440,324.5L442.5,322L445,319.5L447.5,317L450,313.25L451.88,309.5L453.12,305.75L454.38,303.25L457.5,300.75L462.5,299.5L467.5,298.88L472.5,297.62L477.5,296.38L482.5,295.75L486.25,295.75L488.12,296.38"/>
<path d="M454.38,303.25L456.25,305.12L460,303.25L463.12,301.38L465,300.12"/>
<path d="M440.62,322L443.12,320.12L445.62,319.5L446.88,322L448.12,324.5L445,325.75L442.5,325.12L440.62,323.25L440.62,322"/>
<path d="M442.5,322.62L445,321.38L446.25,323.25L444.38,324.25"/>
<path d="M477.5,297L478.75,300.75L478.12,304.5L476.88,307.62L473.75,309.5L473.12,312L475.62,313.25L476.88,314.5L473.75,316.38L471.25,318.25L468.12,319.5L465.62,320.75L466.25,323.88L467.5,327L465.62,329.5L463.12,330.75L463.75,333.25L466.25,334.5L468.12,337L469.38,340.12L468.75,342"/>
<path d="M440,325.12L445,323.88L450,323.5L455,323.88L457.5,325.75L461.25,327L463.75,329.5"/>
<path d="M430,327.62L431.25,330.75L435,332.62L437.5,335.12L441.25,337L445,338.25L447.5,340.75L450,342"/>
<path d="M451.25,342L453.12,339.5L454.38,342"/>
<path d="M420,332L421.25,335.75L420.62,339.5"/>
<path d="M488.12,296.38L487.5,298.88L490,300.12L492.5,298.88L491.88,295.12L493.75,294.5L496.25,293.25L495.62,289.5L495,285.75L493.75,283.25"/>
<path d="M496.25,293.88L500,294.5L502.5,296.38L505.62,298.25"/>
<path d="M493.75,283.25L490.62,283.88L489.38,281.38L491.25,278.88L492.5,276.38L490,273.88L488.12,272L488.12,268.25L488.75,264.5L488.12,261.38L490,258.25L492.5,256.38L495,255.12L498.75,254.5L502.5,253.25L503.75,252"/>
<path d="M490,260.75L493.75,259.5L496.25,257.62L498.75,258.88L500.62,261.38L497.5,260.75L495,261.38L492.5,262"/>
<path d="M512.5,252L511.25,255.75L510,258.88L507.5,259.5L510,261.38L513.75,262L516.25,263.25L515,265.12L512.5,265.75L511.25,268.25L508.75,270.75L506.25,272L503.75,273.88L502.5,277L503.75,278.88L501.25,280.12L502.5,282L506.25,283.25L507.5,285.12"/>
<path d="M493.75,282.62L497.5,281.75L501.25,282L505,282L507.5,283.25"/>
<path d="M506.25,275.12L508.75,273.88L512.5,273.25L515,274.5L515.62,277L513.75,279.5L511.25,280.12L508.12,279.5L506.25,277.62L506.25,275.12"/>
<path d="M517.5,272L520,269.5L523.75,267.62L527.5,266.38L531.25,265.75L533.12,267.62L532.5,270.75L530,273.25L531.25,275.75L528.75,277L530,279.5L527.5,281.38L525,280.75L522.5,280.12L520,278.25L518.75,275.12L517.5,272"/>
<path d="M524.38,269.5L527.5,269.5L528.12,272L525.62,272L524.38,269.5L526.25,270.75L527.5,271.38"/>
<path d="M517.5,282L521.25,281.38L525,282L527.5,283.25L528.12,285.12L525,284.75L521.25,284.5L518.75,283.88L517.5,282"/>
<path d="M507.5,285.12L510,287L513.75,287.62L518.75,286.38L520.62,287.62L518.75,289.5L516.25,290.75L515.62,292.62L518.75,293.25L522.5,292.62L525,290.75L528.75,289.5L532.5,288.25L536.25,287L540,285.75"/>
<path d="M528.75,252L530.62,254.5L532.5,257L535,259.5L537.5,262L536.88,264.5L538.12,268.25L538.75,272L536.88,275.12L540,275.75"/>
<path d="M485.25,290L486.25,290.38"/>
<path d="M523.38,259.5L524.12,259.88"/>
<path d="M516.25,252.62L517.5,253"/>
<path d="M528.75,338.25L530,340.75L531.25,342"/>
<path d="M528.75,338.25L532.5,337L536.25,335.75L540,335.12"/>
<path d="M447.5,342L452.5,342.62L456.25,344.5L460,347L463.75,347L464.38,343.88L463.75,342"/>
<path d="M467.5,342L470,343.88L471.25,347L472.5,349.5L475,351.38L480,352L485,353.25L488.75,354.5L486.88,358.25L485,362L483.75,365.75L482.5,369.5L481.88,372"/>
<path d="M481.88,372L486.25,370.75L491.25,368.88L495,369.5L500,370.75L503.75,372L506.25,373.25"/>
<path d="M481.88,372L477.5,372.62L475.62,375.75L473.75,378.25L470,382L468.12,384.5L466.25,387L466.88,388.88L469.38,386.38L472.5,385.12L475,387L475,390.12L476.88,392"/>
<path d="M476.88,392L481.25,391.38L485,390.12L488.12,388.25L490,385.75L491.88,386.38L492.5,389.5L495,391.38L496.88,392L498.12,389.5L499.38,385.75L501.25,385.12L503.12,387L506.25,386.38L508.75,385.75L510,383.25L511.88,382L511.25,379.5L507.5,378.25L503.75,377.62L502.5,375.75L503.75,373.25L506.25,373.25"/>
<path d="M506.25,373.25L510,374.5L512.5,372L517.5,372L522.5,371.38L527.5,370.12L532.5,369.5L536.25,370.12L538.75,372L540,371.38"/>
<path d="M511.88,382L516.25,380.75L521.25,379.5L526.25,378.88L530,378.25L531.25,380.75L535,382L540,382.62"/>
<path d="M532.5,342L533.12,345.75L536.25,349.5L540,352"/>
<path d="M540,362L536.88,363.88L536.25,367L538.12,369.5L538.75,372"/>
<path d="M476.88,392L475,394.5L476.25,397L477.5,399.5L475,400.75L473.12,402L474.38,404.5L476.25,405.75L475.62,409.5L476.25,412L480,412.62L483.12,413.25L482.5,415.75"/>
<path d="M482.5,415.75L480,418.25L476.25,420.75L472.5,423.25L470,425.75L467.5,427L463.75,425.75L460,423.88L457.5,422L456.25,420.75L453.75,422L452.5,420.75L450,421.38L446.25,420.75L442.5,422L438.75,424.5L436.25,428.25L435.62,432"/>
<path d="M482.5,415.75L486.25,413.25L490,410.75L495,409.5L500,410.75L503.75,412.62L507.5,414.5L510,417L511.88,420.75L512.5,424.5L515,428.25L517.5,432"/>
<path d="M500,432L501.25,428.25L502.5,427L501.88,430.75"/>
<path d="M505.38,426.75L506.12,427.25"/>
<path d="M508.75,429.5L511.25,430.12"/>
<path d="M540,393.25L536.25,394.5L532.5,396.38L530,398.25L530.62,402L531.88,405.75L531.25,409.5L532.5,413.25L535,415.75L538.75,417L540,417.62"/>
<path d="M531.62,415.75L532.38,416.25"/>
<path d="M420,431.38L422.5,432"/>
<path d="M420,449.5L423.75,448.25L427.5,445.75L431.25,443.25L435,440.75L437.5,438.25L438.75,435.75L437.5,433.88L435,433.25L431.25,433.88L427.5,434.5L423.75,433.88L421.25,432.62L420,432"/>
<path d="M428.75,468.88L431.25,466.38L435,465.12L438.12,464.5L440.62,467L438.75,469.5L436.25,472L433.75,471.38L431.25,470.12L428.75,468.88"/>
<path d="M443.75,463.88L446.25,463L448.75,463.88L449.38,465.75L446.88,466.38L444.38,465.12L443.75,463.88"/>
<path d="M434.62,474.25L435.38,474.75"/>
<path d="M420,474.5L421.25,475.75L420.62,477.62L420,480.12"/>
<path d="M495,432L493.12,434.5L492.5,437.62L493.75,440.75L495.62,443.88L498.12,446.38L500,444.5L501.25,440.75L501.88,437L502.5,433.25L501.88,432"/>
<path d="M499.38,448.25L496.25,450.12L492.5,451.38L490,450.12L488.75,453.88L489.38,457L491.25,460.75L491.88,465.75L491.25,470.75L490,474.5L492.5,477L495.62,477.62L497.5,475.12L500,474.5L502.5,473.88L503.75,469.5L504.38,464.5L505,459.5L505.62,454.5L503.75,450.75L501.25,448.25L499.38,448.25"/>
<path d="M518.75,432L520,434.5L523.75,436.38L527.5,439.5L531.25,442.62L535,445.75L538.75,448.25L540,448.88"/>
<path d="M509.75,435L510.5,435.38"/>
<path d="M516.5,434.25L517.25,434.75"/>
<path d="M532.12,440L532.88,440.38"/>
<path d="M420,506.38L425,505.75L430,504.5L435,503.25L440,502L445,501.38L450,502L455,503.25L458.75,505.12L462.5,503.88L466.25,502L470,499.5L473.75,501.38L477.5,500.12L481.25,500.12L485,501.38L488.75,502L492.5,501.38L496.25,498.88L500,497L503.75,496.38L507.5,497L510,498.25L510.62,500.75L510,503.25L513.75,502.62L516.88,500.12L518.75,500.12L518.12,503.25L515.62,505.75L513.12,508.25L512.5,512L514.38,515.75L517.5,518.25L518.12,522"/>
<path d="M492.5,501.38L489.38,505.12L488.75,508.25L490,512L489.38,517L490,522"/>
<path d="M540,485.75L536.25,486.38L533.12,488.25L531.88,490.12L533.75,492.62L537.5,493.88L540,494.5"/>
<path d="M527.75,488.62L528.5,489.12"/>
<path d="M527.12,503L528.12,503.5"/>
<path d="M535.88,514.25L536.62,514.75"/>
<path d="M533.25,518.5L534.25,519.12"/>
<path d="M540,550.62L545,552.5L550,554.38L555,556.25L560,556.88L562.5,559.38L563.12,563.75L565,567.5L568.75,570L575,571.88L581.25,573.12L587.5,575.62L592.5,578.75L596.25,581.25L600,583.12L603.75,582.5L607.5,580L610.62,576.25L611.88,572.5L610.62,567.5L609.38,563.75L610,560L612.5,556.88L616.25,554.38L621.25,552.5L626.25,551L631.25,550.62L636.25,551.88L640,553.12L642.5,555L642.5,557.5L645,559.38L650,560L655,561.25L660,561.88"/>
<path d="M643.5,514.12L644.25,514.75"/>
<path d="M550.62,511.88L552.5,512.5L554.38,515L553.12,515.62L551.25,513.75L550.62,511.88"/>
<path d="M505.38,595L506,601.25L504.75,607.5L506.62,612.5L504.75,618.75L506.62,625L504.75,628.75L501.62,631.25L501,633.75L503.5,637.5L506.62,641.25L507.5,645L507.5,647.5"/>
<path d="M576,113.25L577.25,105.75L581,103.25L584.75,102L588.5,102.62L587.25,105.12L583.5,107L579.75,108.25L577.25,110.75L581,112L584.75,109.5L588.5,108.25L591,105.75L592.25,102L596,99.5L599.75,97L598.5,94.5L602.25,93.88L606,95.12L608.5,94.5L607.25,97L603.5,98.25L601,100.75L604.75,102L608.5,100.75L611,98.88L613.5,97L616,94.5L619.75,95.12L618.5,97.62L622.25,97L626,94.5L629.75,93.25L628.5,90.75L632.25,88.88L636,89.5L638.5,87.62L642.25,87L644.75,88.25L643.5,90.75L639.75,92L643.5,93.25L646,92L648.5,89.5L651,87L653.5,84.5L657.25,83.88L659.75,85.75L663.5,85.12L667.25,83.25L671,83.88L669.75,85.75L667.25,87.62L664.75,89.5L662.25,92L661,95.12L663.5,95.12L666,92.62L669.75,90.12L673.5,87L676,85.12L677.25,87L676,90.12L677.25,92L679.75,89.5L682.25,85.75L686,83.88L689.75,84.5L688.5,87L691,88.88L694.75,87.62L696,88.25"/>
<path d="M576,117L579.75,114.5L583.5,113.25L582.25,110.75L586,112L589.75,109.5L593.5,107L597.25,104.5L601,103.25L604.75,105.12L609.75,105.75L613.5,103.25L616,100.75L613.5,98.88L617.25,99.5L621,98.88L624.75,97L628.5,98.25L631,99.5L629.75,96.38L633.5,94.5L637.25,95.75L641,95.12L643.5,96.38L646,94.5L649.75,92L652.25,90.75L656,88.25L658.5,87.62"/>
<path d="M594.75,97L597.25,95.75L601,96.38L604.75,94.5L606,97L609.75,96.38L612.25,94.5L614.75,95.75"/>
<path d="M631,92L634.75,90.75L638.5,91.38L641,89.5L644.75,90.12L647.25,88.25L651,88.88"/>
<path d="M576,123.25L578.5,120.75L582.25,119.5L586,120.75L589.75,119.5L591,115.75L594.75,114.5L601,115.12L607.25,116.38L611,115.75L612.88,113.25L613.5,109.5L617.25,108.88L619.75,107L622.25,105.75L627.25,105.75L631,108.88L634.75,111.38L639.75,112.62L644.75,113.25L648.5,112L653.5,112L658.5,113.88L662.25,112.62L666,109.5L669.12,108.25L669.75,104.5L671,101.38L674.75,99.5L679.75,97.62L684.75,96.38L689.75,95.75L693.5,97L696,98.25"/>
<path d="M619.75,108.25L624.75,112L629.75,114.5L634.75,115.75L639.75,117.62L643.5,120.12L647.25,122L646,125.75L648.5,129.5L649.75,133.25L651,136.38L648.5,140.12L649.75,143.88L652.25,147L656,148.25"/>
<path d="M621.62,162L622.25,158.25L624.75,155.75L623.5,153.88L627.25,153.25L629.75,150.12L633.5,149.5L637.25,147.62L641,148.25L646,147.62L651,147.62L656,148.25L658.5,147L657.25,148.88L661,150.12L664.75,152L666,155.75L665.38,159.5L662.25,157.62L658.5,158.25L663.5,159.5L666,162"/>
<path d="M693.5,114.5L696,115.12"/>
<path d="M623.5,162L626,163.88L624.12,166.38L619.75,168.25L618.5,171.38L613.5,173.25L608.5,175.12L603.5,177L599.75,178.88L596,180.75L592.25,182.62L589.75,184.5L587.25,183.25L588.5,185.75L584.75,188.25L582.88,190.12L584.12,193.25L582.25,197L580.38,199.5L581.62,203.25L582.25,207L583.5,210.12L587.25,212L591,213.25L593.5,215.75L596.62,218.25L599.12,220.75L599.75,223.25L597.25,225.75L594.75,226.38L591,227L593.5,228.88L591,230.75L587.25,232L583.5,233.88L579.75,235.75L576,238.25"/>
<path d="M592.25,252L594.75,248.25L597.25,245.75L601,244.5L602.88,243.88"/>
<path d="M576,242L577.25,239.5L576,237"/>
<path d="M656,162L655.38,163.25L652.25,166.38L648.5,168.88L644.75,170.75L641,173.25L637.25,174.5L633.5,177L629.75,178.25L626,179.5L622.88,178.88L622.25,181.38L623.5,183.88L621.62,187L622.25,190.75L624.12,194.5L626,198.25L626.62,200.75L625.38,204.5L624.12,208.25L623.5,212L626,213.25L629.75,212.62L633.5,214.5L637.25,215.12L641,215.75L639.75,218.25L636,219.5L634.75,217.62L631,217L627.25,216.38L624.12,215.75L623.5,213.25"/>
<path d="M641,218.25L644.75,219.5L649.75,218.25L654.75,217.62L659.75,217L664.75,215.75L669.75,214.5L674.75,213.25L678.5,212L682.25,212.62L686,212L689.75,211.38L693.5,210.12L696,208.88"/>
<path d="M605.38,216.38L608.5,214.5L612.25,215.12L616,215.75L618.5,215.12L617.25,217.62L613.5,218.88L609.75,218.25L606.62,217.62L605.38,216.38"/>
<path d="M619.5,219.88L620.25,220.25"/>
<path d="M646,230.12L649.75,227L654.75,225.12L659.75,224.5L666,223.25L672.25,223.88L678.5,224.5L684.75,225.75L691,226.38L693.5,224.5L692.88,222.62L696,222"/>
<path d="M631,232.62L634.75,230.75L638.5,230.5L641,232L638.5,233.88L634.75,234.5L631,232.62"/>
<path d="M629.12,238.25L632.25,237L636,236.38L639.75,237L643.5,236.38L644.12,238.25L641,239.5L637.25,240.12L633.5,240.75L631,242L631,243.88L629.12,240.75L629.12,238.25"/>
<path d="M646,230.12L645.38,233.25L648.5,234.5L646,237L648.5,239.5L651,241.38L653.5,240.75L656,240.12L655.38,243.25"/>
<path d="M655.38,243.25L661,243.25L666,243.88L671,245.75L676,248.25L681,248.88L684.75,248.25L688.5,245.75"/>
<path d="M693.5,224.5L692.25,228.25L688.5,232L686.62,235.75L687.25,239.5L689.12,243.25L688.5,245.75L686,249.5L683.5,252"/>
<path d="M655.38,243.25L654.75,247L655.38,252"/>
<path d="M626,252L629.75,249.5L633.5,248.25L636,247L638.5,249.5L641,252"/>
<path d="M602,238.75L602.75,239.25"/>
<path d="M681.38,218.25L682.12,218.5"/>
<path d="M690.12,218.88L690.88,219.12"/>
<path d="M643.25,245.5L644,246"/>
<path d="M573.75,252L571.88,255.75L570,259.5L569.38,262.62L567.5,265.12L563.75,265.75L558.75,266.38L555,267.62L551.88,269.5L550.62,272L551.88,273.88L549.38,275.12L545,275.75L540,276.38"/>
<path d="M580,252L577.5,255.75L575.62,259.5L573.75,263.25L573.12,265.12L570,264.5"/>
<path d="M591.25,252L592.5,255.12L594.38,256.38L595.62,253.88L595,252"/>
<path d="M555.62,277L558.12,276.38L560.62,278.25L559.38,280.12L556.88,279.75L555.62,277"/>
<path d="M540,284.5L542.5,285.12L545,287.62L546.25,290.75L549.38,292.62L552.5,293.25L557.5,291.38L562.5,289.5L567.5,288.25L572.5,286.38L577.5,284.5L582.5,283.25L587.5,282.62L592.5,282.62L595,283.88L595.62,286.38L598.12,287.62L602.5,287.62L606.25,286.38L608.12,283.88L609.38,282L613.75,281.38L617.5,280.12L620,278.25L621.88,275.75L621.88,272.62"/>
<path d="M540,285.75L541.88,286.38L541.25,288.88L543.75,290.12L546.25,290.75"/>
<path d="M621.88,272.62L621.25,268.25L620,264.5L620.62,260.75L622.5,257L625,254.5L626.25,252"/>
<path d="M605,287.62L615,287.88L627.5,288.25L637.5,288.25"/>
<path d="M609.38,282L617.5,281.75L622.5,282"/>
<path d="M622.5,277L627.5,278.88L632.5,280.12L636.25,280.75L638.75,283.25L637.5,286.38L638.75,288.25"/>
<path d="M638.75,288.25L643.75,289.5L646.25,292L647.5,295.75L649.38,299.5L650.62,304.5L650,308.25L646.25,310.75L643.12,313.25L646.25,315.75L647.5,318.25L647.5,322L648.75,325.75L651.25,329.5L652.5,332L651.25,335.75L648.75,338.25L646.25,340.75L643.75,342"/>
<path d="M621.25,265.75L627.5,263.88L633.75,263.25L640,263.88L646.25,264.5L652.5,263.88L657.5,263.25L660,262.62"/>
<path d="M646.25,292.62L650,293.25L655,292.62L658.75,292L660,290.75"/>
<path d="M647.5,321.38L652.5,320.12L657.5,318.88L660,318.25"/>
<path d="M642.5,252L644.38,254.5L647.5,255.75L651.25,255.12L654.38,253.88L655.62,252"/>
<path d="M552.5,293.25L551.88,297L552.5,300.75L550,304.5L550,307L552.5,308.25L554.38,310.75L555,314.5L555.62,318.25L556.88,322L558.12,325.75L558.75,328.88L557.5,330.75"/>
<path d="M540,335.12L543.75,333.25L547.5,332L551.25,330.75L552.5,328.88L554.38,330.12L557.5,330.75L560.62,329.5L563.75,331.38L567.5,332.62L571.25,333.88L573.75,335.75L574.38,338.88L576.88,339.5L578.75,337L582.5,337.62L586.25,338.25L588.75,340.75L591.25,342"/>
<path d="M587.5,342L591.25,342L595,343.88L597.5,346.38L601.25,347.62L605,347L607.5,349.5L610,350.75L615,349.5L620,348.88L623.75,350.12L627.5,350.75L631.25,351.38L636.25,352.62L639.38,353.25"/>
<path d="M642.5,342L640,345.12L637.5,348.25L638.12,351.38L639.38,353.25"/>
<path d="M540,352.62L543.75,355.75L546.25,358.25L550,357.62L553.75,356.38L558.75,353.88L562.5,353.88L567.5,355.12L572.5,356.38L577.5,357.62L581.25,355.75L586.25,353.88L590,352L593.75,349.5L597.5,347"/>
<path d="M577.5,357.62L578.75,362L580,365.75L583.75,367.62L588.75,368.88L593.75,368.25L597.5,366.38L601.25,365.12L606.25,364.5L611.25,362.62L615,360.75L620,360.12L625,360.75L630,361.38L632.5,360.75L635,357L637.5,353.88L639.38,353.25"/>
<path d="M632.5,360.75L636.25,363.25L640,365.12L645,365.12L650,365.75L655,366.38L660,368.25"/>
<path d="M640,365.12L636.25,368.25L632.5,370.75L630,374.5L627.5,378.25L626.25,382L623.75,385.75L620,387.62L615,388.88"/>
<path d="M580,365.75L577.5,368.88L574.38,370.12L575,373.25L573.75,376.38L572.5,379.5"/>
<path d="M540,383.25L543.75,384.5L548.75,384.5L553.75,383.88L558.75,382.62L563.75,382L568.75,381.38L572.5,379.5"/>
<path d="M572.5,379.5L573.75,383.25L577.5,385.75L581.25,388.25L585,390.75L590,392.62L595,392.62L598.75,392L603.75,390.75L608.75,389.5L615,388.88"/>
<path d="M543.75,385.12L543.12,388.25L545,392L545.62,394.5L548.75,395.75L552.5,396.38L556.25,395.75L560,396.38L562.5,394.5L565,392L567.5,390.12L570,388.25L571.88,385.75L572.5,382"/>
<path d="M540,394.5L542.5,395.12L545.62,394.5"/>
<path d="M545.62,395.12L545,398.25L546.88,401.38L548.75,403.88L550.62,400.75L551.25,398.25L552.5,397.62"/>
<path d="M552.5,397.62L555,400.75L557.5,404.5L560,408.25L562.5,411.38L565,414.5L568.75,418.25L572.5,421.38L576.25,423.88L580,426.38L583.75,428.25L587.5,430.12L590,432"/>
<path d="M553.75,400.75L556.25,404.5L558.75,408.25L561.25,412L563.75,415.75L560,413.88L557.5,410.12L555,405.75L553.75,400.75"/>
<path d="M570,420.12L573.75,422L577.5,424.5L575,424.5L571.25,422.62L570,420.12"/>
<path d="M569.38,427L571.25,427.62"/>
<path d="M576.25,427.62L578.75,428.25"/>
<path d="M566.25,402L566.88,405.75L568.75,409.5L570.62,413.25L573.12,417L576.25,419.5L580,422L583.75,424.5L586.25,427"/>
<path d="M566.25,402L568.75,400.12L573.75,399.5L578.75,399.5L583.75,400.12L588.75,400.75L593.75,401.38L597.5,402L600,403.25"/>
<path d="M598.75,392L599.38,395.75L601.25,399.5L603.75,400.12L601.25,402L602.5,405.75L601.88,409.5L603.12,413.25L605.62,414.5L603.75,417L601.88,419.5L598.75,421.38L596.88,423.25"/>
<path d="M615,388.88L617.5,392L620,395.75L622.5,398.88L625,402L626.25,404.5L630,406.38L633.75,407L637.5,406.38L638.75,408.25L636.25,410.12L637.5,413.25"/>
<path d="M637.5,413.25L640,415.75L638.75,418.25L636.25,417L635,419.5L636.25,423.25L638.75,425.75L640,428.25"/>
<path d="M637.5,413.25L641.25,415.75L646.25,417L652.5,417.62L657.5,417L660,417.62"/>
<path d="M596.88,423.25L595,427L593.75,430.75L595,432"/>
<path d="M596.88,423.25L600,422L603.75,424.5L607.5,426.38L611.25,427.62L615,428.25L613.75,430.75L612.5,432"/>
<path d="M616.5,424.25L617.5,424.75"/>
<path d="M621.5,427.38L622.5,427.88"/>
<path d="M626,431.12L626.75,431.62"/>
<path d="M540,418.25L543.75,419.5L546.25,423.25L547.5,427L548.75,432"/>
<path d="M549.38,432L552.5,435.12L556.25,438.25L561.25,440.12L566.25,440.75L570.62,441.38L568.75,443.88L571.25,446.38L576.25,448.88L581.25,451.38L586.25,454.5L590,457L592.5,458.88L594.38,462L593.75,465.12L591.88,465.75L589.38,463.25L588.12,460.12L585,458.88L581.25,457.62L578.75,458.25L576.25,460.75L574.38,463.88L575,467.62L577.5,469.5L580,471.38L580.62,474.5L579.38,477L576.25,478.25L573.75,480.75L572.5,483.25L570,485.75L567.5,488.25L565.62,488.25L565,485.75L566.88,483.25L569.38,480.12L570.62,477L569.38,473.25L568.12,469.5L566.88,465.75L565.62,463.88L561.88,462.62L558.75,460.12L556.25,457L552.5,455.12L548.75,454.5L546.25,452L543.75,448.88L540,448.25"/>
<path d="M540,485.75L543.75,487L547.5,487.62L552.5,487L557.5,486.38L562.5,485.75L564.38,486.38L563.12,489.5L560.62,493.25L560,497L561.25,500.12L560,503.88L556.25,503.88L552.5,502L548.75,499.5L545,497L541.25,495.12L540,494.5"/>
<path d="M552.12,481.12L552.88,481.62"/>
<path d="M555.88,481.12L556.62,481.62"/>
<path d="M557.5,482L558.75,483.88"/>
<path d="M560.25,478.62L561,479.12"/>
<path d="M542.12,454.25L542.88,454.75"/>
<path d="M547.12,454.88L547.88,455.38"/>
<path d="M550.62,512L552.5,512.62L554.38,514.5L553.12,515.5L551.25,513.88L550.62,512"/>
<path d="M591.88,432L595,433.88L598.75,436.38L601.88,439.5L604.38,438.25L603.75,442L604.38,445.75L605,449.5L604.38,453.25L603.75,457"/>
<path d="M604.38,438.25L603.75,434.5L606.25,433.25L610,432L612.5,434.5L615,437L615.62,439.5L615,443.25L615.62,447L616.88,450.75L619.38,453.25L620,455.75"/>
<path d="M615.62,439.5L618.75,438.25L622.5,437L627.5,436.38"/>
<path d="M630,451.38L626.25,452.62L622.5,453.25L619.38,453.25"/>
<path d="M660.38,561.25L659.5,566.25L659.75,570L661,573.75L661.62,577.5L659.75,581.25L658.5,583.75L659.12,587.5L660.38,591.25L661.62,595L661.62,647.5"/>
<path d="M696,84.5L699.75,85.75L703.5,86.38L708.5,87.62L713.5,88.88L718.5,90.12L722.88,92L721,93.88L717.25,95.12L713.5,96.38L711,98.25L708.5,97L703.5,95.75L698.5,95.12"/>
<path d="M706,98.25L711,98.88L714.75,100.12L717.25,99.5L721,100.12L722.25,102L718.5,102.62L716,101.38L714.75,100.12"/>
<path d="M722.25,101.38L727.25,100.75L731,98.88L733.5,97.62L737.25,98.25L742.25,98.88L744.75,100.12L741,101.38L737.25,100.75L734.75,102L739.75,103.25L744.75,103.88L748.5,105.12L749.75,107L746,108.25L743.5,109.5"/>
<path d="M749.75,105.75L754.75,104.5L761,105.12L767.25,105.75L773.5,107L781,109.5L788.5,112L796,115.12L803.5,117.62L808.5,119.5L813.5,120.12L816,119.5"/>
<path d="M696,113.25L698.5,110.75L702.25,108.25L704.75,105.75L706,103.25L709.75,102L714.75,101.38"/>
<path d="M698.5,112L697.25,115.75L699.75,119.5L703.5,120.75L707.25,123.25L711,125.75L712.25,127.62L708.5,130.75L704.75,133.25L703.5,134.5L706,138.25L708.5,142L711,145.75L713.5,148.25L711,150.75L708.5,153.25L709.75,157L708.5,159.5L709.75,162"/>
<path d="M732.25,132L737.25,132.62L742.25,133.25L743.5,135.75L748.5,136.38L754.75,137L761,138.25L768.5,140.12L776,141.38L783.5,142.62L791,143.88L798.5,144.5L806,144.25L816,143"/>
<path d="M733.5,132L738.5,134.5L742.25,137.62L746,139.5L749.75,140.12L751,142L754.75,143.25L758.5,144.5L762.25,147L763.5,149.5L761,152L758.5,153.25L761,157L762.25,162"/>
<path d="M769.75,157L773.5,155.75L776,157.62L772.25,158.25L769.75,157"/>
<path d="M779.75,159.5L783.5,157L788.5,155.75L793.5,158.25L796,160.75L798.5,161.38L803.5,162"/>
<path d="M816,150.12L813.5,150.75L812.88,153.25L814.75,154.75L816,154.5"/>
<path d="M712.88,162L714.75,164.5L718.5,165.75L719.12,168.88L716,171.38L712.88,173.25L716,175.12L721,177.62L726,180.75L729.12,183.25L727.25,187L721,190.75L714.75,195.12L708.5,199.5L702.25,203.88L696,207.62"/>
<path d="M696,209.5L698.5,211.38L699.12,213.88L697.25,215.75L699.75,215.75L703.5,217L708.5,216.38L712.25,218.25L715.38,219.5L712.25,220.75L708.5,218.88L704.75,219.5L701,220.75L697.25,223.25L696,223.25"/>
<path d="M762.25,162L764.12,164.5L768.5,165.75L773.5,165.12L777.25,168.25L782.25,170.12L787.25,171.38L791,170.75L794.75,169.5L796,167L793.5,164.5L789.75,165.75L786,164.5L782.25,162"/>
<path d="M806,162L811,163.25L816,163"/>
<path d="M690,252L689.38,257L692.5,260.75L694.38,264.5L693.75,266.38"/>
<path d="M660,263.25L665,265.75L670,268.25L674.38,270.75L677.5,272L681.25,270.75L685,268.88L689.38,267L693.75,266.38"/>
<path d="M677.5,272L676.88,275.12L679.38,277L676.25,278.25L672.5,280.12L670,282L669.38,285.75L667.5,288.88L663.75,290.12L660,290.75"/>
<path d="M693.75,266.38L697.5,267.62L702.5,267.62L706.25,269.5L707.5,271.38L712.5,270.75L717.5,270.75L721.25,272.62L722.5,275.75L721.25,279.5L721.88,282.62L725,285.12L726.25,288.25L730,290.75L731.88,293.25L731.25,295.12L735,295.75L738.75,297.62L740.62,300.12L737.5,302L733.75,303.25L730,302.62L726.88,303.88L728.12,307L728.75,310.75L729.38,313.88L732.5,315.75"/>
<path d="M660,317.62L665,317.62L670,318.25L675,318.88L680,320.12L685,321.38L688.75,323.25L692.5,322L696.25,322.62L700,323.88L703.75,321.38L706.25,324.5L710,323.88L713.75,323.25L717.5,325.75L719.38,322L720,319.5L722.5,317L727.5,315.75L732.5,315.75"/>
<path d="M732.5,315.75L736.25,313.88L741.25,313.25L747.5,312.62L752.5,313.25L755,315.75L757.5,319.5L755.62,322.62L756.88,325.75L761.25,327L765,327.62L767.5,330.75L768.75,334.5L772.5,337L777.5,337.62L780,338.25"/>
<path d="M667.5,289.25L668.75,289.75L668,290.25L667.5,289.25"/>
<path d="M660,368.88L663.75,367L667.5,366.38L672.5,365.12L676.25,362.62L680,362L683.75,361.38L687.5,360.5"/>
<path d="M687.5,360.5L691.25,361.38L695,363.25L698.75,364.5L702.5,366.38L704.38,368.88L703.75,372L706.25,374.5L708.12,377L708.75,379.5L711.25,382L713.75,385.12L711.88,385.75L708.75,385.12L705,384.5L702.5,385.75L701.88,388.25L700,390.75L697.5,393.25L696.25,395.75"/>
<path d="M680,362.62L682.5,365.12L685,368.25L687.5,372L690,375.12L692.5,378.25L693.75,382L694.38,385.75L693.75,389.5L693.12,393.25L693.75,395.75L696.25,396.38"/>
<path d="M696.25,396.38L698.75,398.25L702.5,397.62L706.25,397L708.75,396.38L710,398.25L709.38,400.75L708.12,403.25L706.25,404.5L703.75,403.88L702.5,403.25"/>
<path d="M710,395.75L711.25,393.25L713.75,392L716.25,390.12L718.75,387L721.25,383.88L725,382.62L728.12,382"/>
<path d="M702.5,403.25L701.25,407L700,410.75L699.38,414.5L698.75,418.25"/>
<path d="M660,417.62L665,418.88L668.75,417L672.5,415.12L677.5,413.88L682.5,413.5L687.5,415.12L692.5,417L697.5,418.25L698.75,418.25"/>
<path d="M698.75,418.25L698.12,421.38L695,423.25L693.12,425.75L692.5,429.5"/>
<path d="M728.12,382L730,379.5L731.88,375.75L732.5,378.25L733.12,380.75L735,382.62L738.75,382.62L736.25,384.5L732.5,385.12L730,385.75L733.75,387L737.5,388.25L741.25,389.5L745,389.25L748.75,388.88L751.25,391.38L747.5,392.62L743.75,394.5L740,396.38L738.75,397.62L742.5,398.25L746.25,400.12L748.75,402L750,404.5L748.75,407L751.25,408.88L753.75,410.12L756.25,408.25L758.75,405.75L762.5,403.88L766.25,403.25L770,402L773.75,401.38L777.5,402L779.38,400.12L778.75,398.25L775,397.62L771.25,397L767.5,395.75L765,393.25L763.12,390.12L763.75,387.62L766.25,385.75L770,383.88L773.75,382.62L777.5,381.75L780,381"/>
<path d="M732.25,445L736,442.5L741,440.62L746,439.38L751,439.38L756,440L761,440L764.12,438.75L766,440.62L767.88,442.5L771,443.75L774.75,443.12L776,446.25L779.75,448.12L782.25,447.5L786,449.38L789.75,450.62L793.5,450L797.25,451.88L802.25,451.88L807.25,451.25L811,450.62L816,452.25"/>
<path d="M703.5,400L702.25,403.75L701,407.5L699.75,411.25L698.5,415L697.88,418.75L696,421.88"/>
<path d="M705.38,400L708.5,402.5L709.75,400"/>
<path d="M746,400L748.5,402.5L749.75,405.62L747.88,408.12L751,409.38L754.75,408.75L758.5,406.25L762.25,404.38L767.25,402.5L772.25,401.25L777.25,400.62L781,400"/>
<path d="M781,400L786,402.5L789.75,406.25L794.75,408.75L799.75,411.25L804.75,413.75L809.75,417.5L816,422.5"/>
<path d="M640,415.62L645,416.25L650,416.88L655,417.5L660,418.75L665,419.38L668.75,417.5L672.5,415L676.25,413.75L681.25,413.12L686.25,413.75L691.25,415L695,417.5L698.12,418.75"/>
<path d="M698.12,418.75L698.75,415L699.38,411.25L700,407.5L702.5,405L702.5,401.88"/>
<path d="M698.12,418.75L697.5,421.88L693.75,422.5L691.88,425L691.25,428.75"/>
<path d="M704.38,507.5L707.5,510L711.25,511.25L715,510L717.5,508.75L718.75,505"/>
<path d="M731.25,505L735,508.12L737.5,510.62L741.25,511.88L746.25,511.25L751.25,510.62L755,508.12L758.75,505L762.5,503.12L766.25,503.75L770,505L772.5,502.5L775,501.25L776.88,503.12L776.25,506.25L773.75,508.12"/>
<path d="M773.75,508.12L774.38,512.5L772.5,516.25L773.12,521.25L773.75,526.25L772.5,530L770,535L768.75,540L767.5,545L766.25,550"/>
<path d="M776.88,503.12L780,501.25"/>
<path d="M780,506.25L778.75,510L776.25,512.5L774.38,512.5"/>
<path d="M773.75,526.25L777.5,530L780,531.25"/>
<path d="M770,547.5L772.5,545L775,541.25L777.5,537.5L780,535"/>
<path d="M736.25,525L738.75,523.12L742.5,521.88L746.25,521.25L750,520L755,518.12L760,516.88L757.5,518.75L753.75,520.62L755,522.5L752.5,525L748.75,526.25L746.25,528.12L742.5,529.38L740,528.75L737.5,527.5L736.25,525"/>
<path d="M689.38,510.62L691.88,508.75L694.38,507.5L693.75,510L691.88,513.12L690,513.75L689.38,510.62"/>
<path d="M683.12,515.62L684.38,515L683.75,518.75L682.5,520L683.12,515.62"/>
<path d="M665.62,507.5L666.88,508.12"/>
<path d="M669.38,508.12L670,507.5"/>
<path d="M675,505.62L676.25,506.25"/>
<path d="M685,505L687.5,504.38"/>
<path d="M692.5,505L690,505.62L686.88,505.62L684.38,506"/>
<path d="M696,573.12L699.75,575L703.5,576.25L707.25,574.38L711,571.88L714.12,570L716,570.62L717.25,568.12L721,566.88L724.12,566.5L727.25,568.12L731,568.12L732.88,570L733.5,572.5L736,573.12L737.88,571.25L739.75,573.12L743.5,572.25L747.25,571.88L751,571.88L754.75,570.62L756.62,569.38L758.5,566.88L760.38,563.75L761.62,560L762.88,556.25L763.5,552.5L764.75,548.75L766,545L767.88,541.25L768.5,540"/>
<path d="M731.62,568.75L733.5,570L734.75,571.88"/>
<path d="M756.62,570.62L757.88,576.25L759.12,581.25L761,586.25L762.25,590L763.5,593.75"/>
<path d="M738.5,586.88L737.25,590L738.5,593.75L740.38,597.5L742.25,601.25L744.75,605L747.25,608.75L748.5,612.5L749.75,616.25L752.25,621.25L753.5,626.25L754.12,630"/>
<path d="M739.12,586.88L740.38,590L742.25,593.75L744.12,597.5L746,601.25L747.25,605L749.75,608.75L752.88,611.88L756,613.75L757.25,611.88L758.5,610"/>
<path d="M763.5,593.75L762.25,597.5L761,601.25L759.75,605L759.12,608.75L758.5,610.62L760.38,611.25L761.62,609.38L762.88,605L763.5,600L764.12,595"/>
<path d="M761.62,609.38L766,610L768.5,613.75L771,618.75L773.5,623.75L777.25,630"/>
<path d="M765.38,556.25L767.25,555L769.12,556.25L768.5,560L767.88,563.75L766.62,567.5L764.75,569.38L762.88,569.38L763.5,566.25L764.75,565L764.12,561.25L764.75,558.12L765.38,556.25"/>
<path d="M771,553.75L769.75,558.75L769.12,563.75L768.5,568.75L767.88,572.5L766.62,577.5L765.38,582.5L764.12,588.75L763.5,593.75"/>
<path d="M768.5,540L769.75,543.75L771,546.25L773.5,543.75L774.75,541.25L775.38,540"/>
<path d="M771,546.25L772.25,550L771,553.75"/>
<path d="M771,553.75L774.75,555L778.5,556.88L782.25,558.12L786,556.25L791,553.12L796,550L801,546.88L806,543.75L811,540.62L812.25,540"/>
<path d="M803.5,545.62L804.75,550L806,554.38L806.62,557.5L808.5,559.38L806,561.25L802.25,562.5L797.25,564.38L791,566.25L784.75,568.12L787.25,571.25L791,576.25L794.75,580L792.25,582.5L789.75,585.62L786,586.88L782.25,588.12L779.75,590.62L777.25,593.75L774.75,595.62L769.75,595L764.12,594.38"/>
<path d="M808.5,559.38L812.25,561.25L816,562"/>
<path d="M753,616.5L754.25,617.25L753.25,617.5L753,616.5"/>
<path d="M754.12,630L755.38,631.25L757.88,636.25L760.38,641.25L762.88,645.62L764.12,648.12"/>
<path d="M777.25,630L778.5,630.62L781,633.75L782.25,636.25L779.75,638.75L781.62,640.62L783.5,641.88L784.75,640L786,643.75L787.88,648.12"/>
<path d="M780.44,338.89L783.78,337.78L787.11,336.67L789.33,337.22L791.56,339.44L794.89,341.67L797.11,340.56L800.44,342.22L803.78,343.33L807.11,343.89L810.44,345.56L813.78,346.67L816,347.22"/>
<path d="M779.33,382.22L783.78,380.56L788.22,378.89L792.67,377.78L796.56,376.67L797.11,373.33L798.22,371.11L801.56,369.44L804.89,368.33L809.33,368.33L813.78,367.78L814.33,364.44L813.78,361.11L812.67,358.89L813.22,355.56L816,353.33"/>
<path d="M796.56,377.22L799.33,376.67L802.67,375.56L806,375L808.78,376.11L808.22,377.78L804.89,378.89L800.44,380.56L796,382.22L792.67,383.33L794.89,385.56L798.22,387.22L799.89,389.44L797.11,390L796,392.22L793.78,394.44L791.56,396.67L790.44,399.11L790.44,400"/>
<path d="M536.62,122.62L539.36,120.72L540.4,121.85L540.2,120.94L539.85,120.6L544.97,120.21L543.45,119.41L546.85,117.66L545.54,119.27L547.99,115.68L549.05,117.95L550.99,118.08L550.74,117.33L552.15,115.73L552.25,116.17L555.57,116.48L554.76,115.24L555.14,114.33L559.8,113.51L557.49,113.22L558.1,111.22L561.24,112.57L560.33,110.25L562.52,110.86L564.47,106.3L564.7,108.25L567.39,109.18L566.41,107.63L568.63,105.87L570.09,107.38L569.75,105.53"/>
<path d="M556,115.75L559.55,113.23L557.67,115.36L561.08,116.51L560.27,115.07L560.7,113.69L562.14,114.71L566.28,116.42L565.41,113.44L565.95,114.42L568.09,115.13L570.45,112.37L570.13,113.64L572.87,113.41L573.1,111.26"/>
<path d="M516,158.88L517.89,157.61L517.98,158.54L517.91,159.04L520.41,157.12L525.09,158.95L523.64,157.68L526.2,154.37L529.16,157.84L527.91,155.92L527.59,154.78L532.59,153.55L530.84,149.18L532,151.83L536.08,150.34L532.69,150.36L532.04,146.58L536.87,147.07L535.9,146.31L537.65,142.44L542.26,144.63L538.59,141.3L545.45,141.66L541.11,138.74L545.45,140.17L545,137.9L547.06,135.85L546.14,137.12L550.7,136.76L548.17,136.02L547.87,133.11L553.2,135.6L551.05,132.11L554.01,131.78L554.84,130.96L557.44,128.57L556.81,129.5L558.65,129.87L558.99,125.69L563.96,127.32L563.06,123.83L562.91,125.29L565.82,125.85L564.68,124.46L566.75,122.37L569.19,121.41L568.64,121.47L569.8,117.96L569.79,120.24L572.53,122.28L571.91,119.39L572.18,117.56L573.58,118.36L577.56,117.69L576.06,116.89"/>
<path d="M576,109.5L575.72,108.58L577.27,108.79L581.27,107.95L578.52,105.23L581.67,107.32L582.01,105.53L584.78,102.34L585.92,105.51L589.21,101.29L590.72,102.98L589.61,101.07L591.29,101.44L594.86,102.64L593.52,100.55L594.35,96.5L597.82,99.55L596.53,98.55L596.17,96L599.03,97.52L601.68,97.99L601.44,96.52L601.76,94.88L604.7,97.06L607.37,94.57L607.49,96.42L609.59,96.41L611.04,95.9L611.38,96.87L614.39,100.17L616.94,94.61L615.38,97.12L617.78,99.21L620.61,94.19L619.45,96.39L621.33,96.43L620.98,94.55L622.95,94.76L624.73,95.63L625.44,94.15L624.79,93.28L626.45,93.3L627.09,93.99L628.27,92.42L630.51,91.36L634.94,92.16L632.42,91.4L634.33,90.46L635.12,90.66L635.32,92.31L636.58,90.39L640.19,88.72L638.48,89.83L643.28,90.91L641.39,89.47L644.21,87.79L642.27,89.85L645.24,93.3L646.9,89.73L649.81,90.76L648.87,86.52L649.69,88.42L652.86,87.04L650.61,85.51L657.15,85.86L655.84,85.18L660.32,86.96L659.43,84.23L665.01,85.46L663.81,85.12L665.52,82.24L668.43,85.48L668.06,84.68L669.7,82.92L669.29,84.49"/>
<path d="M576,115.75L577.6,112.78L581.41,115.17L580.69,112.38L584.87,112.61L582.64,111.9L583.93,109.48L584.08,111.05L587.99,111.72L586.27,110.28L585.48,108.44L587.96,109.05L591.34,107.09L591.92,104.52L592.8,107.27L594.73,101.3L596.13,103.72L595.72,102.88L598.12,101.29L598.05,102.34L601.17,102.76L599.57,102L599.57,100.15L604.54,101.56L606.64,100.4L605.66,101.06L606.5,101.19L610.61,99.2L611.38,102.16L611.44,99.64L613.92,98.53L613.48,101.45"/>
<path d="M677.25,90.75L678.24,87.42L678.33,89.85L680.67,89.34L681.1,85.58L681.21,86.84L683.25,87L684.24,84.68L687.42,84.63L687.66,83.27L687.95,85.23L687.44,86.17L689.46,85.68L692.01,84.71L691.15,86.33L693.63,89.57L696.03,87.03"/>
<path d="M623.5,158.25L623.34,157.35L626.39,155.25L625.72,155.12L626.81,153.55L626.99,153.62L628.57,153.98L628.58,151.65L629.77,150.26L634.11,149.6L632.35,150.09L635.58,147.72L634.82,148.82L637.13,149.3L636.4,148.63L638.47,147.23L639,148.3L642.26,148.49"/>
<path d="M524.12,163.5L520.61,165.17L522.05,163.76L518.22,163.44L520.23,164.16L518.83,166.22L518.17,164.43L518.04,163.55L517.02,165.64L517.48,166.88L514.95,166.15L513.06,165.1L512.31,169.83L512.12,168.46L510.62,166.75L510.32,169.34L508.19,172.21L504.81,170.24L507.68,171.74L505.55,173.83L505.84,172.74L501.98,170.18L503.83,174.12L501.57,171.74L498.19,176.56L498.75,174.38L497.19,173.39L496.74,175.05L496.78,178.18L495.07,175.48L493.2,172.3L493.2,177.13L489.72,175.57L489.66,177.42L489.13,179.79L486.94,177.73L486.63,179.67L484.57,182.65L480.23,180.68L483.65,181.55L482.36,184.19L477.91,183.6L479.97,183.59L482.02,186.29L474.1,184.57L473.98,188.06L475.76,186.57L472.87,185.53L473.85,187.35L473.68,189.14L471.42,188.18L469.45,187.05L470,188.76L469.84,190.77L464.04,188.86L465.7,190.93L462.09,193.37L460.03,192.22L462.05,193.27L461.3,197L460.08,194.75L455.52,194.63L459.38,197.12L454.73,199.06L460.88,202.36L455.06,205.54L458.25,203.57L460.26,207.32L457.39,207.01L462.2,209.74L456.24,212.44L460.29,213.08L458.81,213.59L457.64,213.31L459.69,216.78L458.47,216.77L457.8,220.28L460.55,222.09L459.1,221.21L456.81,224.07L459.49,222.72L462.58,223.49L457.09,226.42L463.15,230.35L457.43,229.59L462.76,230L461.13,232.8L458,233.7L465.34,235.25L462.09,236.14"/>
<path d="M506,175.75L507.69,174.83L508.45,175.91L511.64,177.48L510.22,176.18L511.81,175.96L515.13,175.89L513.59,175.64L516.23,172.63L517.37,175.18L517.54,172.65L520.58,173.16L519.86,171.83L522.28,169.45L521.95,170.55"/>
<path d="M511.62,223.25L513.4,224.39L513.89,228.36L514.96,226.82L514.85,229.71L517.11,228.97L519.54,232.75L520.54,231.98L522.51,233.74L521.33,234.1L520.94,236.39L521.82,235.01L523.81,235.66L523.06,236.83L522.52,238.76L523.53,238.99L524.2,239.13L523.96,240.33L523.77,243.04L526.1,242.11L524.48,245.83L525.2,244.93L526.03,248.16"/>
<path d="M630,435.21L634.69,434.69L635.21,430"/>
<path d="M634.69,434.69L636.25,437.29L639.9,439.38L640.94,443.54L639.9,446.67"/>
<path d="M630,450.31L633.12,449.79L637.29,449.27L639.9,446.67"/>
<path d="M639.9,446.67L643.54,446.46L647.71,445.62L651.88,445.1L655.52,445.1L658.12,446.15L661.25,447.19L664.38,448.23L667.5,448.54L670.62,447.71L672.71,446.67L673.23,444.06L674.79,442.5L676.88,441.46L678.96,440.42L681.04,439.38L684.17,438.85L688.33,439.38L691.46,440.42"/>
<path d="M689.38,430L686.77,433.12L688.33,435.21L690.42,437.81L691.46,440.42L693.54,443.54L696.67,446.15L700.83,448.23L703.96,449.27L709.17,449.79L715.42,449.79L721.67,450.31L725.83,449.79L728.96,447.19L730,446.67"/>
<path d="M703.96,449.27L702.92,451.35L705,453.44L708.12,454.48L712.29,454.79L709.17,455.52L705,456.04L701.88,457.08L702.92,458.65L700.83,459.17L697.71,458.65L693.54,458.12L690.42,458.12L688.33,457.6L687.29,456.04L689.38,455.52L692.5,453.96L695.62,452.4L698.75,451.35L701.88,450.83"/>
<path d="M707.08,454.79L712.29,455"/>
<path d="M672.71,456.04L675.83,454.48L678.96,453.44L682.08,454.48L685.21,453.44L688.33,452.4L691.46,451.35L692.5,452.92L689.38,455.52L687.81,457.6L685.21,458.65L682.08,458.12L678.96,457.6L676.88,459.17L674.79,461.25L673.75,464.38L672.71,467.5L673.75,470.1L676.88,470.1L680,469.58L681.56,469.58L680,471.67L678.96,473.75L680.52,475.83L682.08,477.4L681.04,480L680,482.08L682.08,483.12L681.04,485.21L678.96,486.77L681.04,488.33L683.12,490.42L684.17,493.54L685.21,496.67L686.77,499.27L686.25,501.88L688.33,502.92L692.5,502.92L695.62,501.88"/>
<path d="M672.71,456.04L674.79,457.08L677.92,457.29L681.04,456.88L684.17,457.29L687.29,457.29"/>
<path d="M670.62,473.23L672.71,471.67L675.83,470.62L678.96,470.1L677.92,472.19L676.88,473.75L678.44,475.31L675.83,476.35L673.23,475.83L671.15,474.79L670.62,473.23"/>
<path d="M673.75,473.23L675.83,472.71L676.35,474.27L674.27,474.58"/>
<path d="M670.62,482.08L672.19,481.04L673.75,482.08L673.23,484.17L671.67,485.73L670.62,484.17L670.62,482.08"/>
<path d="M674.79,481.04L676.88,480.52L677.92,482.08L676.35,483.65L674.79,482.6L674.79,481.04"/>
<path d="M671.67,493.02L674.79,492.5L675.83,493.54L672.71,494.06L671.67,493.02"/>
<path d="M678.96,490.94L682.08,490.42L683.12,491.98L680,492.5L678.96,490.94"/>
<path d="M661.77,464.38L664.38,463.85L666.46,464.9L665.42,466.46L662.81,466.46L661.77,464.38L664.38,465.21L665.42,465.94"/>
<path d="M666.46,458.12L668.54,457.92L668.75,458.96L666.67,459.17L666.46,458.12"/>
<path d="M669.06,461.25L671.67,461.25L671.46,462.29L669.38,462.5L669.06,461.25"/>
<path d="M657.08,455L659.17,454.48L660.21,455.52"/>
<path d="M648.75,455L650.83,454.48L653.44,453.96L656.04,452.92L655,455"/>
<path d="M661.25,493.54L663.33,495.1L665.42,495.62"/>
<path d="M661.04,469.9L661.88,470.42"/>
<path d="M667.08,481.25L667.92,481.88"/>
<path d="M662.29,501.88L664.38,500.31L666.46,499.27L665.42,501.35L663.33,502.92"/>
<path d="M669.58,498.75L672.71,497.71L674.79,498.75L673.75,500.31L671.15,500.83L669.58,498.75"/>
<path d="M671.67,492.5L673.75,491.46L675.31,492.5"/>
<path d="M676.88,496.67L678.96,495.62L680,497.19L678.44,498.23L676.88,496.67"/>
<path d="M678.96,501.88L682.08,500.83L684.17,502.4L682.08,503.96L679.48,503.44L678.96,501.88"/>
<path d="M686.25,501.88L688.33,500.83L690.42,501.88"/>
<path d="M717.5,502.92L721.67,501.88L725.83,502.4L730,503.44"/>
<path d="M695.62,501.88L697.5,502.5L702.5,503.75L704.38,507.5"/>
<path d="M646.25,520.62L647.5,518.12L650,518.75L653.75,520L658.75,520.62L663.75,521L668.75,521.25L672.5,521.88L675,522.5L674.38,524.38L671.25,525L667.5,525.62L663.75,525L660,524.38L656.25,523.12L652.5,522.5L648.75,522.5L646.25,520.62"/>
<path d="M647.5,518.75L649.38,517.5L650.62,519"/>
<path d="M651.88,526.88L652.62,527.5"/>
<path d="M660,561.88L663.12,566.25L665,567.5L670,566.25L675,566.88L680,568.12L683.75,569.38L687.5,570.62L691.25,572.5L696,573.12"/>
<path d="M780.44,502.78L782.67,502.78L785.44,504.44L788.22,505L791.56,503.89L794.89,502.22L797.67,501.67L800.44,502.78L802.67,503.89L807.11,503.89L811.56,503.33L816,503.11"/>
<path d="M774.33,514.44L777.11,513.33L778.78,510.56L780.44,508.89L779.89,505.56L780.44,502.78"/>
<path d="M774.33,530.56L777.11,529.44L779.33,530.56L780.44,533.33L779.89,536.67L778.22,538.89"/>
<path d="M605,464.17L606.67,466.67L610,470L612.5,473.33L615.83,475.83L619.17,476.67L620.83,478.33L618.33,480L615.83,482.5L615,485.83L617.5,486.67L620,484.17L621.67,481.67L625,482.5L629.17,484.17L633.33,484.17L637.5,483.33L641.67,484.17L645,485.83L648.33,487.5L651.67,489.17L655,490.83L657.5,493.33L655.83,494.17L653.33,492.5"/>
<path d="M621.67,486.67L624.17,485L628.33,484.67L633.33,485.33L638.33,485.83L642.5,486.67L645,488.33L647.5,490.83L649.17,493.33L650,495.83L647.5,495L645,493.33L643.33,495L645,498.33L646.67,501.67L647.5,505L645.83,503.33L644.17,500.83L642.5,501.67L641.67,505L640.83,507.5L639.17,505L637.5,501.67L635.83,502.5L635,505.83L634.17,507.5L632.5,504.17L630.83,500.83L628.33,497.5L625.83,494.17L623.33,490.83L621.67,486.67"/>
<path d="M646.67,455.83L643.33,454.17L640,455L636.67,457.5L639.17,455.83L640.83,458.33L639.17,461.67L638.33,465.83L640,470L642.5,472.5L645.83,474.17L649.17,475.83L651.67,477.5L650,479.17L647.5,478.33L644.17,477.5L641.67,475.83L640,477.5L637.5,480L639.17,481.67L642.5,481.67L646.67,482.5L650,484.17L653.33,486.67L655.83,489.17"/>
<path d="M641.67,473.33L645,475.83L648.33,477.5L651.67,480L654.17,482.5L655.83,485L653.33,484.17L650.83,481.67L647.5,479.67L644.17,478L641.67,475.83"/>
<path d="M646.67,455.83L650,454.17L653.33,453.33L657.5,452.5L660,454.17L658.33,455.83L655.83,455.83L657.5,458.33L659.17,460.83L657.5,461.67L655,459.17L652.5,457.5L653.33,460L654.17,462.5L652.5,463.33L650.83,460.83L649.17,458.33L647.5,457.5L646.67,455.83"/>
<path d="M660,454.17L663.33,452.5L666.67,451.67L670,450.83L673.33,449.17"/>
<path d="M607.5,465.83L610,469.17L611.67,470L609.17,467.5L607.5,465.83"/>
<path d="M614.17,483.33L616.67,484.17L617.5,486.67L615,486.67L614.17,483.33"/>
<path d="M616.67,490L619.17,490.83L618.33,493.33L616.67,492.5L616.67,490"/>
<path d="M657.5,455L659.17,454.17L660,455.83L658.33,456.33L657.5,455"/>
<path d="M655,470L657.5,469.17L658.33,470.83L655.83,471.67L655,470"/>
<path d="M660.83,469.17L662,469.67"/>
<path d="M655.83,477.5L658.33,476.67L658.67,478.33L656.33,478.67L655.83,477.5"/>
<path d="M653.33,491.67L655.83,490.83L657.5,492.5L655,493.67L653.33,491.67"/>
<path d="M650,498.33L652.5,497.5L653.33,499.67L650.83,500.33L650,498.33"/>
<path d="M655,503.33L657.5,502.5L659.17,504.17L656.67,505.33L655,503.33"/>
<path d="M658.33,498.33L659.67,498"/>
<path d="M643.67,514.17L644.67,514.67"/>
<path d="M652,526.67L653,527.17"/>
<path d="M640.83,510L641.67,510.83"/>
<path d="M620.83,452.5L620,455.67L618.67,458.33L616.83,460.83L615,463.33L613.67,465.83L611.83,467.67L610.33,469.17"/>
<path d="M315,283.33L317.5,280L321.67,278.33L325.83,277.5L330,276.33L331.67,277.5L329.17,280L326.67,282L330,280.83L334.17,278.33L340,276.67L345,280L348.33,285L347.5,290L343.33,293.33L341.67,296.67L342.5,303.33L341.67,310L338.33,315L335,316.67L328.33,318.33L321.67,320L315,321.67L308.33,323.33L303.33,323.33L299.17,320.83L297.5,316.67L300,315L303.33,313.33L301.67,310L305,308.33L308.33,307.5L311.67,308.33L306.67,305.83L303.33,303.33L306.67,301.67L310,301.67L305,299.17L301.67,296.67L300,293.33L302.5,290L306.67,289.17L311.67,290L316.67,289.67L315,286.67L315,283.33"/>
<path d="M316.67,289.67L320,288.33L322.5,285.83L325.83,288.33L330,290L333.33,288.33L336.67,290L340,291.67L343.33,292.5"/>
<path d="M300,316.67L302.5,318.33L305.83,319.17L303.33,320.83L300,319.17"/>
<path d="M300.83,293.33L304.17,294.17L306.67,292.5"/>
<path d="M303.33,300L306.67,300L308.33,298.33"/>
<path d="M590.83,255L590,250.83L592.5,247.5L595.83,245L599.17,244.17L600.83,245L598.33,247.5L596.67,250.83L595,254.17L592.5,256.67L590.83,255"/>
<path d="M187.5,155L185,153.12L185.62,150L186.25,147.5L183.75,146.88L184.38,145L182.5,143.75L180,142.5L178.12,141.88L175.62,140.62L173.12,140.25L170.62,140.62L168.12,140.62L166.25,141.88L168.75,142.5L171.25,142.25L173.75,143.12L171.88,144.38L169.38,143.75L166.88,143.5L164.38,143.75L161.88,145L160,146.88L161.88,147.5L165,146.88L166.88,146.25L168.75,146.88L171.25,146.25L173.75,146.88L171.88,148.12L168.75,148.12L165.62,148.75L162.5,149.38L159.38,150L156.25,149.38L153.12,151.25L155.62,152.25L158.75,151.88L161.25,151.25L163.75,151.5L162.5,152.75L166.25,151.88L170,151.25L173.75,151.5L176.88,152.25L180,151.88L181.88,152.5L179.38,153.75L176.88,154.38L174.38,155.62L176.88,156.25L180,155.62L180.62,157.5L178.12,158.12L175,157.75L171.88,158.12L168.75,158.5L165.62,158.75L162.5,159L159.38,159.38L157.5,160.62L159.38,161.5L162.5,160.62L166.25,160L170,160L173.12,159.75L175.62,160.62L176.88,162.5L178.75,163.75L180.62,162.5L183.12,162.25L183.75,163.75L181.25,165L179.38,166.25L180.62,167.5L182.5,166.88L183.75,168.12L181.88,169.38L179.38,169.38L176.88,169.38L174.38,169L171.88,169.38L171.25,171.25L173.12,172.25L176.25,171.88L180,171.5L183.75,171.25L186.88,171.5L190,172.25L193.12,173.12L195,174.38L196.88,175.62L196.25,176.88"/>
<path d="M168.75,143.75L170.62,145L172.5,145.62L173.75,145"/>
<path d="M170,141.25L171.88,141.88L173.12,141.25"/>
<path d="M187.5,155L186.88,151.88L188.75,150L191.25,149.38L193.75,150.62L193.12,148.12L194.38,145.62L196.88,144.38L198.75,145L200,146.88L202.5,148.12"/>
<path stroke-width="1.6" d="M389.12,215.75L392.25,213.25L395.38,210.75L396.62,209.5"/>
<path stroke-width="1.8" d="M391,217L392.88,215.12L392.25,218.88"/>
<path stroke-width="1.8" d="M371,230.75L374.12,229.5L377.25,228L379.12,228.25"/>
<path stroke-width="1.6" d="M372.25,232.62L374.75,231.75"/>
<path stroke-width="1.6" d="M336,191.38L338.5,191L337.25,193.25L336,194.75"/>
<path stroke-width="1.6" d="M326.62,193.25L330.38,192L334.12,191L336,191.5"/>
<path stroke-width="1.8" d="M331.62,194.75L334.75,195.5L336,196"/>
<path stroke-width="1.8" d="M333.5,199.25L336,200.75"/>
<path stroke-width="1.8" d="M327.88,249.5L331,247.62L332.88,243.88L334.75,241.38"/>
</g>
<g fill="#000" shape-rendering="crispEdges">
<path fill-rule="evenodd" d="M96,72h720v576h-720zM97,73v574h718v-574zM199,641h1v6h-1zM199,73h1v6h-1zM301,641h1v6h-1zM301,73h1v6h-1zM404,641h1v6h-1zM404,73h1v6h-1zM507,641h1v6h-1zM507,73h1v6h-1zM610,641h1v6h-1zM610,73h1v6h-1zM712,641h1v6h-1zM712,73h1v6h-1zM97,586h6v1h-6zM809,586h6v1h-6zM97,525h6v1h-6zM809,525h6v1h-6zM97,463h6v1h-6zM809,463h6v1h-6zM97,402h6v1h-6zM809,402h6v1h-6zM97,341h6v1h-6zM809,341h6v1h-6zM97,280h6v1h-6zM809,280h6v1h-6zM97,219h6v1h-6zM809,219h6v1h-6zM97,158h6v1h-6zM809,158h6v1h-6zM97,96h6v1h-6zM809,96h6v1h-6z"/>
</g>
<text class="k" x="85.30" y="669" textLength="23.0" lengthAdjust="spacingAndGlyphs">-30</text>
<text class="k" x="188.01" y="669" textLength="23.0" lengthAdjust="spacingAndGlyphs">-20</text>
<text class="k" x="290.73" y="669" textLength="23.0" lengthAdjust="spacingAndGlyphs">-10</text>
<text class="k" x="403.70" y="669" textLength="8.48" lengthAdjust="spacingAndGlyphs">0</text>
<text class="k" x="502.18" y="669" textLength="16.96" lengthAdjust="spacingAndGlyphs">10</text>
<text class="k" x="604.89" y="669" textLength="16.96" lengthAdjust="spacingAndGlyphs">20</text>
<text class="k" x="707.61" y="669" textLength="16.96" lengthAdjust="spacingAndGlyphs">30</text>
<text class="k" x="810.32" y="669" textLength="16.96" lengthAdjust="spacingAndGlyphs">40</text>
<text class="k" x="72.34" y="652.35" textLength="16.96" lengthAdjust="spacingAndGlyphs">25</text>
<text class="k" x="72.34" y="591.18" textLength="16.96" lengthAdjust="spacingAndGlyphs">30</text>
<text class="k" x="72.34" y="530.01" textLength="16.96" lengthAdjust="spacingAndGlyphs">35</text>
<text class="k" x="72.34" y="468.84" textLength="16.96" lengthAdjust="spacingAndGlyphs">40</text>
<text class="k" x="72.34" y="407.67" textLength="16.96" lengthAdjust="spacingAndGlyphs">45</text>
<text class="k" x="72.34" y="346.50" textLength="16.96" lengthAdjust="spacingAndGlyphs">50</text>
<text class="k" x="72.34" y="285.33" textLength="16.96" lengthAdjust="spacingAndGlyphs">55</text>
<text class="k" x="72.34" y="224.16" textLength="16.96" lengthAdjust="spacingAndGlyphs">60</text>
<text class="k" x="72.34" y="162.99" textLength="16.96" lengthAdjust="spacingAndGlyphs">65</text>
<text class="k" x="72.34" y="101.82" textLength="16.96" lengthAdjust="spacingAndGlyphs">70</text>
<text class="t" x="341.80" y="25.70" textLength="230.13" lengthAdjust="spacingAndGlyphs">JOS26-04 Scen:Baseline</text>
<text class="t" x="375.26" y="48.40" textLength="161.75" lengthAdjust="spacingAndGlyphs">Average VPL Map</text>
<text class="k" x="423.48" y="692.75" textLength="64.45" lengthAdjust="spacingAndGlyphs">Longitude</text>
<text class="k" transform="translate(55,0) rotate(-90)" x="-386.26" y="0" textLength="52.74" lengthAdjust="spacingAndGlyphs">Latitude</text>
<text class="h" x="834.79" y="66.70" textLength="54.71" lengthAdjust="spacingAndGlyphs">VPL (m)</text>
<g shape-rendering="crispEdges">
<rect x="834" y="72" width="35" height="29" fill="#00008f"/>
<rect x="834" y="101" width="35" height="28" fill="#0040ff"/>
<rect x="834" y="129" width="35" height="29" fill="#00ffff"/>
<rect x="834" y="158" width="35" height="29" fill="#00ff00"/>
<rect x="834" y="187" width="35" height="29" fill="#ffff00"/>
<rect x="834" y="216" width="35" height="28" fill="#ffa500"/>
<rect x="834" y="244" width="35" height="29" fill="#ff0000"/>
<rect x="834" y="273" width="35" height="29" fill="#8b0000"/>
<rect x="834.5" y="302.5" width="34" height="29" fill="#c0c0c0" stroke="#000"/>
</g>
<text class="g" x="872.98" y="90.78" textLength="26.24" lengthAdjust="spacingAndGlyphs">&gt;50</text>
<text class="g" x="872.98" y="119.53" textLength="26.24" lengthAdjust="spacingAndGlyphs">≤50</text>
<text class="g" x="872.98" y="148.28" textLength="26.24" lengthAdjust="spacingAndGlyphs">≤40</text>
<text class="g" x="872.97" y="177.03" textLength="26.53" lengthAdjust="spacingAndGlyphs">≤35</text>
<text class="g" x="872.97" y="205.78" textLength="26.53" lengthAdjust="spacingAndGlyphs">≤25</text>
<text class="g" x="872.98" y="234.53" textLength="26.24" lengthAdjust="spacingAndGlyphs">≤20</text>
<text class="g" x="872.97" y="263.27" textLength="26.53" lengthAdjust="spacingAndGlyphs">≤15</text>
<text class="g" x="872.98" y="292.02" textLength="26.24" lengthAdjust="spacingAndGlyphs">≤10</text>
<text class="g" x="872.81" y="321.10" textLength="34.35" lengthAdjust="spacingAndGlyphs">No PL</text>
</svg></body></html>
